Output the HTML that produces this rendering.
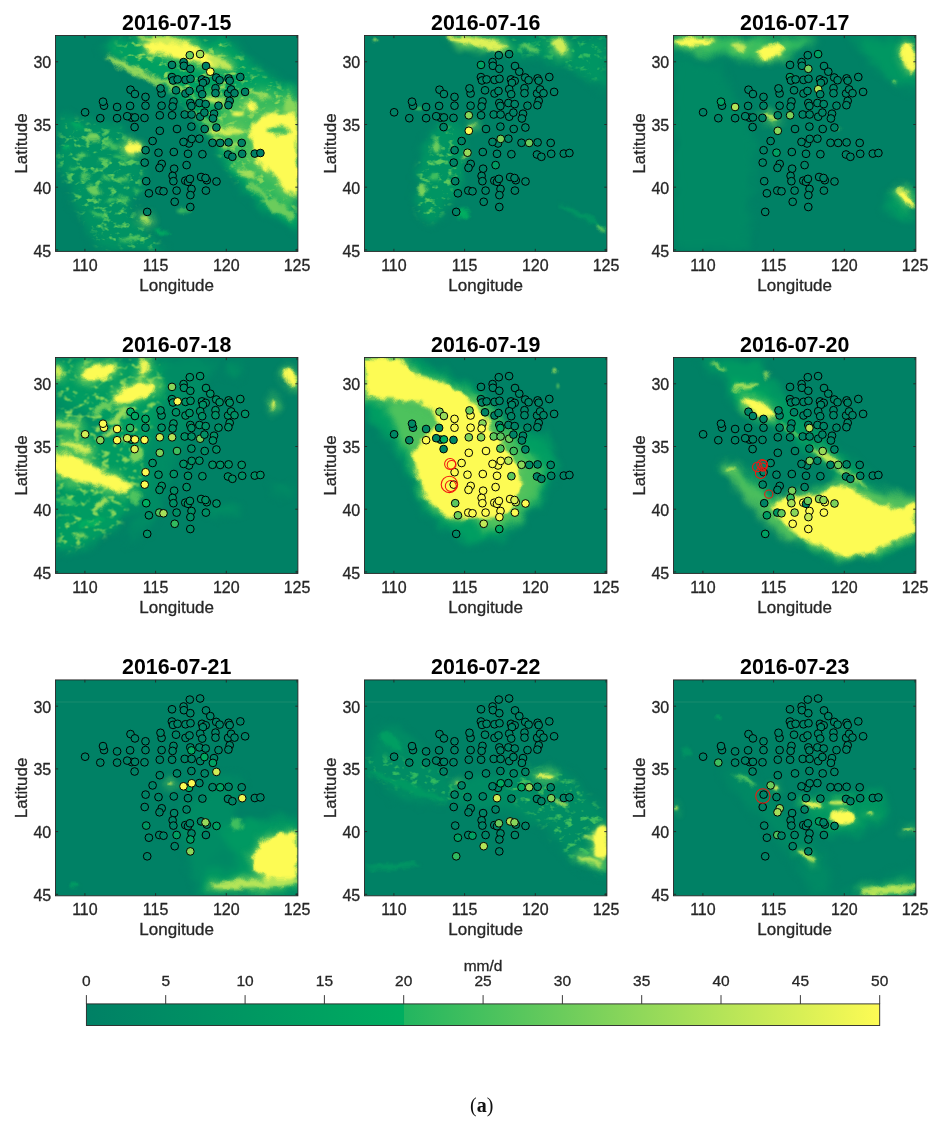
<!DOCTYPE html>
<html lang="en"><head><meta charset="utf-8"><title>Daily precipitation 2016-07-15 to 2016-07-23</title>
<style>html,body{margin:0;padding:0;background:#fff}body{width:940px;height:1125px;overflow:hidden}svg{display:block}text{font-family:"Liberation Sans",Arial,sans-serif;fill:#262626;stroke:#262626;stroke-width:.3px;paint-order:stroke}.tt{font-weight:bold;font-size:21.4px;fill:#000;stroke:none;text-anchor:middle}.tk{font-size:16px}.xl{text-anchor:middle}.yl{text-anchor:end}.lb{font-size:17px;text-anchor:middle}.cb{font-size:15.5px;text-anchor:middle}.cap{font-family:"Liberation Serif","DejaVu Serif",serif;font-size:20px;fill:#111;stroke:none;text-anchor:middle}.s{stroke:#000;stroke-width:1}.r{fill:none;stroke:#f2160f;stroke-width:1.05}</style></head><body>
<svg width="940" height="1125" viewBox="0 0 940 1125">
<defs>
<filter id="b1" x="-20%" y="-20%" width="140%" height="140%" color-interpolation-filters="sRGB"><feGaussianBlur stdDeviation="0.9" result="g"/><feTurbulence type="fractalNoise" baseFrequency="0.12" numOctaves="2" seed="2" result="n"/><feDisplacementMap in="g" in2="n" scale="4" xChannelSelector="R" yChannelSelector="G"/></filter>
<filter id="b2" x="-20%" y="-20%" width="140%" height="140%" color-interpolation-filters="sRGB"><feGaussianBlur stdDeviation="1.8" result="g"/><feTurbulence type="fractalNoise" baseFrequency="0.09" numOctaves="2" seed="5" result="n"/><feDisplacementMap in="g" in2="n" scale="9" xChannelSelector="R" yChannelSelector="G"/></filter>
<filter id="b3" x="-20%" y="-20%" width="140%" height="140%" color-interpolation-filters="sRGB"><feGaussianBlur stdDeviation="4.0" result="g"/><feTurbulence type="fractalNoise" baseFrequency="0.05" numOctaves="2" seed="8" result="n"/><feDisplacementMap in="g" in2="n" scale="14" xChannelSelector="R" yChannelSelector="G"/></filter>
<filter id="b4" x="-20%" y="-20%" width="140%" height="140%" color-interpolation-filters="sRGB"><feGaussianBlur stdDeviation="3.5" result="g"/><feTurbulence type="fractalNoise" baseFrequency="0.11 0.16" numOctaves="3" seed="14" result="n"/><feColorMatrix in="n" type="matrix" values="0 0 0 0 0 0 0 0 0 0 0 0 0 0 0 5 0 0 0 -2.75" result="m"/><feGaussianBlur in="m" stdDeviation="0.7" result="m2"/><feComposite in="g" in2="m2" operator="in"/></filter>
<clipPath id="cp"><rect x="0" y="0" width="242.4" height="215.9"/></clipPath>
<linearGradient id="cg" x1="0" x2="1" y1="0" y2="0"><stop offset="0.0000" stop-color="#008065"/><stop offset="0.1000" stop-color="#008c64"/><stop offset="0.2000" stop-color="#009762"/><stop offset="0.3000" stop-color="#00a261"/><stop offset="0.4000" stop-color="#00ae60"/><stop offset="0.4002" stop-color="#22b560"/><stop offset="0.5000" stop-color="#46c15e"/><stop offset="0.6000" stop-color="#6bcc5c"/><stop offset="0.7000" stop-color="#90d85a"/><stop offset="0.8000" stop-color="#b4e458"/><stop offset="0.9000" stop-color="#d8ef56"/><stop offset="1.0000" stop-color="#fdfb54"/></linearGradient>
</defs>
<rect width="940" height="1125" fill="#fff"/>
<g transform="translate(55.5,35.5)">
<g clip-path="url(#cp)">
<rect x="-1" y="-1" width="244.4" height="217.9" fill="#008165"/>
<g filter="url(#b3)"><polygon points="55.7,1.1 170,1.1 204.6,34.4 241.8,55.7 241.8,196.6 207.3,172.7 180.7,148.8 159.4,111.5 138.1,74.3 106.2,47.7 74.3,31.7 47.7,18.4" fill="#00a062"/><polygon points="164.7,61 196.6,53 241.8,58.3 241.8,180.7 207.3,159.4 180.7,132.8 159.4,100.9" fill="#3fbe5e" opacity="0.85"/><polygon points="7.8,79.6 66.3,92.9 87.6,132.8 76.9,180.7 108.9,215.2 42.4,215.2 15.8,159.4 1.1,122.2" fill="#009563" opacity="0.9"/></g>
<g filter="url(#b3)" fill="#6bcc5c" stroke="#6bcc5c" stroke-width="5" stroke-linejoin="round" opacity="0.85"><polygon points="86.3,9.1 106.2,4.6 132.8,7.3 154.1,17.9 168.7,29.1 154.1,30.9 132.8,25.6 108.9,20.3 92.9,16.3"/><polygon points="82.3,1.1 115.5,1.1 132.8,9.1 100.9,8.3"/><ellipse cx="164.7" cy="27.7" rx="13.3" ry="3.7" transform="rotate(25 164.7 27.7)"/><ellipse cx="158.1" cy="64.2" rx="10.1" ry="2.4" transform="rotate(12 158.1 64.2)"/><polygon points="199.3,86.3 211.3,77.5 225.9,79.1 241.8,74.3 241.8,160.7 229.9,155.4 220.6,139.4 207.3,134.1 199.3,120.8 194.5,100.9"/><ellipse cx="195.6" cy="71.1" rx="6.4" ry="4.8"/><ellipse cx="182.8" cy="78.5" rx="6.9" ry="2.1"/><ellipse cx="170" cy="95.6" rx="18.6" ry="3.5"/><ellipse cx="76.9" cy="112.9" rx="8.5" ry="5.3"/><ellipse cx="90.2" cy="184.7" rx="6.6" ry="2.4"/></g>
<g filter="url(#b4)"><polygon points="7.8,82.3 66.3,95.6 87.6,132.8 76.9,180.7 106.2,212.6 45,212.6 15.8,159.4 2.5,122.2" fill="#5cc85d"/><polygon points="61,5.1 167.4,5.1 201.9,37.1 239.2,61 239.2,180.7 207.3,164.7 180.7,143.4 159.4,108.9 138.1,74.3 106.2,47.7 74.3,31.7" fill="#88d65a"/></g>
<g filter="url(#b2)"><polygon points="86.3,9.1 106.2,4.6 132.8,7.3 154.1,17.9 168.7,29.1 154.1,30.9 132.8,25.6 108.9,20.3 92.9,16.3" fill="#fdfb54"/><polygon points="82.3,1.1 115.5,1.1 132.8,9.1 100.9,8.3" fill="#d1ed56"/><ellipse cx="164.7" cy="27.7" rx="13.3" ry="3.7" fill="#c3e857" transform="rotate(25 164.7 27.7)"/><ellipse cx="76.9" cy="34.4" rx="31.9" ry="3.2" fill="#97da5a" transform="rotate(27 76.9 34.4)"/><ellipse cx="119.5" cy="51.7" rx="23.9" ry="2.9" fill="#88d65a" transform="rotate(27 119.5 51.7)"/><ellipse cx="158.1" cy="64.2" rx="10.1" ry="2.4" fill="#d1ed56" transform="rotate(12 158.1 64.2)"/><ellipse cx="143.4" cy="82.3" rx="16" ry="2.7" fill="#6bcc5c" transform="rotate(25 143.4 82.3)"/><polygon points="199.3,86.3 211.3,77.5 225.9,79.1 241.8,74.3 241.8,160.7 229.9,155.4 220.6,139.4 207.3,134.1 199.3,120.8 194.5,100.9" fill="#fdfb54"/><ellipse cx="223.8" cy="95" rx="10.6" ry="4.3" fill="#3fbe5e"/><ellipse cx="195.6" cy="71.1" rx="6.4" ry="4.8" fill="#fdfb54"/></g>
<g filter="url(#b1)"><ellipse cx="182.8" cy="78.5" rx="6.9" ry="2.1" fill="#fdfb54"/></g>
<g filter="url(#b2)"><ellipse cx="204.6" cy="59.9" rx="12" ry="2.1" fill="#a5df59" transform="rotate(15 204.6 59.9)"/><ellipse cx="235.2" cy="70.3" rx="8" ry="8" fill="#88d65a"/><ellipse cx="170" cy="95.6" rx="18.6" ry="3.5" fill="#d1ed56"/><ellipse cx="175.4" cy="108.9" rx="13.3" ry="2.4" fill="#97da5a"/><ellipse cx="191.3" cy="138.1" rx="10.6" ry="3.2" fill="#a5df59" transform="rotate(25 191.3 138.1)"/><ellipse cx="223.2" cy="172.7" rx="18.6" ry="5.9" fill="#6bcc5c" transform="rotate(35 223.2 172.7)"/><ellipse cx="201.9" cy="154.1" rx="13.3" ry="3.2" fill="#6bcc5c" transform="rotate(35 201.9 154.1)"/><ellipse cx="76.9" cy="112.9" rx="8.5" ry="5.3" fill="#fdfb54"/><ellipse cx="37.1" cy="102.2" rx="6.6" ry="4.3" fill="#7ad15b"/><ellipse cx="26.4" cy="119.5" rx="5.3" ry="3.2" fill="#5cc85d"/><ellipse cx="47.7" cy="124.8" rx="5.9" ry="2.4" fill="#5cc85d"/><ellipse cx="37.1" cy="154.1" rx="7.4" ry="4.3" fill="#6bcc5c" transform="rotate(30 37.1 154.1)"/><ellipse cx="66.3" cy="143.4" rx="5.3" ry="2.4" fill="#5cc85d"/><ellipse cx="30.4" cy="140.8" rx="4.3" ry="2.4" fill="#5cc85d"/><ellipse cx="90.2" cy="184.7" rx="6.6" ry="2.4" fill="#b4e458"/><ellipse cx="74.3" cy="204.6" rx="10.6" ry="2.4" fill="#4ec35e" transform="rotate(-10 74.3 204.6)"/><ellipse cx="127.5" cy="175.4" rx="6.6" ry="2.1" fill="#3fbe5e"/><ellipse cx="55.7" cy="164.7" rx="6.6" ry="2.4" fill="#3fbe5e"/><ellipse cx="21.1" cy="90.2" rx="8" ry="2.7" fill="#00a960" transform="rotate(20 21.1 90.2)"/><ellipse cx="55.7" cy="108.9" rx="8" ry="2.4" fill="#4ec35e" transform="rotate(20 55.7 108.9)"/><ellipse cx="18.4" cy="132.8" rx="5.3" ry="2.1" fill="#3fbe5e"/><ellipse cx="50.4" cy="143.4" rx="4.8" ry="2.1" fill="#4ec35e"/><ellipse cx="69" cy="164.7" rx="5.3" ry="2.1" fill="#4ec35e" transform="rotate(20 69 164.7)"/><ellipse cx="42.4" cy="180.7" rx="8" ry="2.4" fill="#3fbe5e" transform="rotate(30 42.4 180.7)"/><ellipse cx="82.3" cy="154.1" rx="4.3" ry="2.1" fill="#3fbe5e"/><ellipse cx="106.2" cy="196.6" rx="8" ry="2.1" fill="#00ae60" transform="rotate(10 106.2 196.6)"/><ellipse cx="63.6" cy="122.2" rx="6.6" ry="2.1" fill="#3fbe5e" transform="rotate(10 63.6 122.2)"/><ellipse cx="10.5" cy="111.5" rx="4.8" ry="2.1" fill="#00ae60"/></g>
<g class="s" fill="#008065"><circle cx="29.6" cy="76.8" r="3.85"/><circle cx="48.5" cy="70.2" r="3.85"/><circle cx="47.5" cy="66.2" r="3.85"/><circle cx="44.8" cy="82.7" r="3.85"/><circle cx="61.6" cy="71.5" r="3.85"/><circle cx="61.6" cy="82.7" r="3.85"/><circle cx="75" cy="54.2" r="3.85"/><circle cx="79.4" cy="58.5" r="3.85"/><circle cx="74.6" cy="70.4" r="3.85"/><circle cx="76.1" cy="82.2" r="3.85"/><circle cx="71.7" cy="80.7" r="3.85"/><circle cx="79.4" cy="81.9" r="3.85"/><circle cx="79.1" cy="91.6" r="3.85"/><circle cx="90" cy="61.4" r="3.85"/><circle cx="90" cy="70.2" r="3.85"/><circle cx="89" cy="82.4" r="3.85"/><circle cx="106.1" cy="58" r="3.85"/><circle cx="105" cy="52.9" r="3.85"/><circle cx="106.1" cy="70.2" r="3.85"/><circle cx="104.3" cy="79.8" r="3.85"/><circle cx="104.3" cy="95.3" r="3.85"/><circle cx="116.5" cy="29.4" r="3.85"/><circle cx="116.4" cy="41.6" r="3.85"/><circle cx="117.5" cy="45" r="3.85"/><circle cx="122.1" cy="43.9" r="3.85"/><circle cx="120.5" cy="54.8" r="3.85"/><circle cx="118" cy="66" r="3.85"/><circle cx="117.1" cy="71" r="3.85"/><circle cx="116.6" cy="79.8" r="3.85"/><circle cx="121.5" cy="93.5" r="3.85"/><circle cx="134.3" cy="19.7" r="3.85" fill="#6bcc5c"/><circle cx="144.6" cy="18.6" r="3.85" fill="#a5df59"/><circle cx="128.1" cy="26.6" r="3.85"/><circle cx="128.4" cy="30.3" r="3.85"/><circle cx="134.8" cy="33.3" r="3.85"/><circle cx="150.5" cy="30.5" r="3.85"/><circle cx="154.8" cy="36.2" r="3.85" fill="#fdfb54"/><circle cx="130" cy="44.4" r="3.85"/><circle cx="135" cy="43.3" r="3.85"/><circle cx="146.5" cy="43.9" r="3.85"/><circle cx="150.2" cy="45.4" r="3.85"/><circle cx="147.4" cy="47.3" r="3.85"/><circle cx="160.7" cy="42" r="3.85"/><circle cx="164.1" cy="44.7" r="3.85"/><circle cx="173.1" cy="42.9" r="3.85"/><circle cx="174.2" cy="45.2" r="3.85"/><circle cx="184.8" cy="41.5" r="3.85"/><circle cx="130" cy="58" r="3.85"/><circle cx="134" cy="55.5" r="3.85"/><circle cx="144.7" cy="53.7" r="3.85"/><circle cx="146.7" cy="58.7" r="3.85"/><circle cx="160" cy="52.7" r="3.85"/><circle cx="160" cy="57.7" r="3.85"/><circle cx="172.6" cy="58" r="3.85"/><circle cx="175.6" cy="53.9" r="3.85"/><circle cx="179" cy="57.7" r="3.85"/><circle cx="189.6" cy="56.4" r="3.85"/><circle cx="134.8" cy="67.5" r="3.85"/><circle cx="135.9" cy="70.5" r="3.85"/><circle cx="143.9" cy="67.5" r="3.85"/><circle cx="150.2" cy="68.6" r="3.85"/><circle cx="163" cy="70.2" r="3.85"/><circle cx="174.2" cy="65.4" r="3.85"/><circle cx="172.9" cy="69.7" r="3.85"/><circle cx="129.2" cy="79" r="3.85"/><circle cx="136.1" cy="79" r="3.85"/><circle cx="144.7" cy="81.2" r="3.85"/><circle cx="148.9" cy="77.1" r="3.85"/><circle cx="158.5" cy="78.2" r="3.85"/><circle cx="157.4" cy="83" r="3.85"/><circle cx="135.9" cy="91.1" r="3.85"/><circle cx="149.2" cy="93.5" r="3.85"/><circle cx="160.9" cy="92" r="3.85"/><circle cx="97.1" cy="105.5" r="3.85"/><circle cx="133.5" cy="108" r="3.85"/><circle cx="128" cy="106.4" r="3.85"/><circle cx="136.2" cy="103.4" r="3.85"/><circle cx="143.9" cy="103.2" r="3.85"/><circle cx="157" cy="107.3" r="3.85"/><circle cx="164.7" cy="107.4" r="3.85"/><circle cx="173.1" cy="106.9" r="3.85"/><circle cx="90.1" cy="114.7" r="3.85"/><circle cx="103" cy="117.2" r="3.85"/><circle cx="118.3" cy="116.5" r="3.85"/><circle cx="132.5" cy="118.3" r="3.85"/><circle cx="146.9" cy="118.7" r="3.85"/><circle cx="172.5" cy="119" r="3.85"/><circle cx="176.9" cy="121.3" r="3.85"/><circle cx="89.2" cy="127.1" r="3.85"/><circle cx="106.2" cy="128.4" r="3.85"/><circle cx="104" cy="132.4" r="3.85"/><circle cx="118.6" cy="133.2" r="3.85"/><circle cx="131.1" cy="129.6" r="3.85"/><circle cx="117.1" cy="140.4" r="3.85"/><circle cx="117.9" cy="145.7" r="3.85"/><circle cx="90.7" cy="145.7" r="3.85"/><circle cx="129.8" cy="145.2" r="3.85"/><circle cx="132.5" cy="146.3" r="3.85"/><circle cx="134.4" cy="143.4" r="3.85"/><circle cx="145.6" cy="141.5" r="3.85"/><circle cx="151.3" cy="144.7" r="3.85"/><circle cx="150" cy="142.5" r="3.85"/><circle cx="161" cy="146" r="3.85"/><circle cx="93.4" cy="157.8" r="3.85"/><circle cx="103.8" cy="155.1" r="3.85"/><circle cx="108" cy="155.8" r="3.85"/><circle cx="121.1" cy="155.1" r="3.85"/><circle cx="136" cy="153.5" r="3.85"/><circle cx="134.9" cy="159.6" r="3.85"/><circle cx="150.4" cy="155.1" r="3.85"/><circle cx="119.2" cy="166.3" r="3.85"/><circle cx="134.8" cy="171.5" r="3.85"/><circle cx="91.7" cy="176.4" r="3.85"/><circle cx="186.2" cy="107.4" r="3.85"/><circle cx="186.7" cy="118.3" r="3.85"/><circle cx="199.3" cy="118.1" r="3.85"/><circle cx="204.9" cy="117.5" r="3.85"/></g>
</g>
<rect x="0" y="0" width="242.4" height="215.9" fill="none" stroke="#262626" stroke-width="0.9"/>
<path d="M29.4 215.9v-2.6M29.4 0v2.6M0 26.3h2.6M242.4 26.3h-2.6M100.1 215.9v-2.6M100.1 0v2.6M0 89h2.6M242.4 89h-2.6M170.8 215.9v-2.6M170.8 0v2.6M0 151.7h2.6M242.4 151.7h-2.6M241.5 215.9v-2.6M241.5 0v2.6M0 214.4h2.6M242.4 214.4h-2.6" stroke="#262626" stroke-width="0.9" fill="none"/>
<text class="tk xl" x="29.4" y="235.2">110</text>
<text class="tk xl" x="100.1" y="235.2">115</text>
<text class="tk xl" x="170.8" y="235.2">120</text>
<text class="tk xl" x="241.5" y="235.2">125</text>
<text class="tk yl" x="-4.3" y="32.9">30</text>
<text class="tk yl" x="-4.3" y="95.6">35</text>
<text class="tk yl" x="-4.3" y="158.3">40</text>
<text class="tk yl" x="-4.3" y="221">45</text>
<text class="tt" x="121.2" y="-6">2016-07-15</text>
<text class="lb" x="121.2" y="255.1">Longitude</text>
<text class="lb" transform="translate(-28.2,108) rotate(-90)">Latitude</text>
</g>
<g transform="translate(364.5,35.5)">
<g clip-path="url(#cp)">
<rect x="-1" y="-1" width="244.4" height="217.9" fill="#008165"/>
<g filter="url(#b3)"><polygon points="82.3,1.1 241.8,1.1 241.8,55.7 196.6,29.1 154.1,18.4 106.2,13.1" fill="#009563"/><ellipse cx="75.6" cy="135.5" rx="22.6" ry="51.9" fill="#009563" transform="rotate(15 75.6 135.5)"/></g>
<g filter="url(#b3)" fill="#6bcc5c" stroke="#6bcc5c" stroke-width="5" stroke-linejoin="round" opacity="0.85"><ellipse cx="114.2" cy="7.3" rx="30.6" ry="4.3" transform="rotate(10 114.2 7.3)"/><ellipse cx="195.3" cy="10.5" rx="6.6" ry="9.3" transform="rotate(-20 195.3 10.5)"/><ellipse cx="108.3" cy="90.2" rx="2.4" ry="2.7"/></g>
<g filter="url(#b4)"><ellipse cx="74.3" cy="138.1" rx="19.9" ry="47.9" fill="#5cc85d" transform="rotate(15 74.3 138.1)"/><polygon points="84.9,2.5 239.2,2.5 239.2,47.7 196.6,26.4 154.1,17.1 106.2,13.1" fill="#31ba5f"/></g>
<g filter="url(#b2)"><ellipse cx="114.2" cy="7.3" rx="30.6" ry="4.3" fill="#e0f256" transform="rotate(10 114.2 7.3)"/><ellipse cx="195.3" cy="10.5" rx="6.6" ry="9.3" fill="#d1ed56" transform="rotate(-20 195.3 10.5)"/><ellipse cx="164.7" cy="13.1" rx="10.6" ry="2.7" fill="#5cc85d" transform="rotate(20 164.7 13.1)"/><ellipse cx="71.6" cy="111.5" rx="4.3" ry="5.9" fill="#6bcc5c"/><ellipse cx="58.3" cy="154.1" rx="4.8" ry="5.9" fill="#7ad15b" transform="rotate(10 58.3 154.1)"/><ellipse cx="100.9" cy="120.8" rx="2.7" ry="3.7" fill="#97da5a"/><ellipse cx="108.3" cy="90.2" rx="2.4" ry="2.7" fill="#b4e458"/><ellipse cx="69" cy="140.8" rx="5.3" ry="3.7" fill="#3fbe5e"/><ellipse cx="98.2" cy="178" rx="6.6" ry="4.8" fill="#00ae60"/><ellipse cx="217.9" cy="180.7" rx="26.6" ry="2.7" fill="#009563" transform="rotate(28 217.9 180.7)"/><ellipse cx="237.1" cy="193.4" rx="5.3" ry="2.1" fill="#5cc85d" transform="rotate(30 237.1 193.4)"/></g>
<g filter="url(#b1)"><ellipse cx="10.5" cy="5.1" rx="2.1" ry="1.6" fill="#97da5a"/><ellipse cx="54.3" cy="73" rx="3.7" ry="1.6" fill="#4ec35e"/></g>
<g class="s" fill="#008265"><circle cx="29.6" cy="76.8" r="3.85"/><circle cx="48.5" cy="70.2" r="3.85"/><circle cx="47.5" cy="66.2" r="3.85"/><circle cx="44.8" cy="82.7" r="3.85"/><circle cx="61.6" cy="71.5" r="3.85"/><circle cx="61.6" cy="82.7" r="3.85"/><circle cx="75" cy="54.2" r="3.85"/><circle cx="79.4" cy="58.5" r="3.85"/><circle cx="74.6" cy="70.4" r="3.85"/><circle cx="76.1" cy="82.2" r="3.85"/><circle cx="71.7" cy="80.7" r="3.85"/><circle cx="79.4" cy="81.9" r="3.85"/><circle cx="79.1" cy="91.6" r="3.85"/><circle cx="90" cy="61.4" r="3.85"/><circle cx="90" cy="70.2" r="3.85"/><circle cx="89" cy="82.4" r="3.85"/><circle cx="106.1" cy="58" r="3.85"/><circle cx="105" cy="52.9" r="3.85"/><circle cx="106.1" cy="70.2" r="3.85"/><circle cx="104.3" cy="79.8" r="3.85" fill="#88d65a"/><circle cx="104.3" cy="95.3" r="3.85" fill="#fdfb54"/><circle cx="116.5" cy="29.4" r="3.85" fill="#00a062"/><circle cx="116.4" cy="41.6" r="3.85"/><circle cx="117.5" cy="45" r="3.85"/><circle cx="122.1" cy="43.9" r="3.85"/><circle cx="120.5" cy="54.8" r="3.85"/><circle cx="118" cy="66" r="3.85"/><circle cx="117.1" cy="71" r="3.85"/><circle cx="116.6" cy="79.8" r="3.85"/><circle cx="121.5" cy="93.5" r="3.85"/><circle cx="134.3" cy="19.7" r="3.85"/><circle cx="144.6" cy="18.6" r="3.85"/><circle cx="128.1" cy="26.6" r="3.85"/><circle cx="128.4" cy="30.3" r="3.85"/><circle cx="134.8" cy="33.3" r="3.85"/><circle cx="150.5" cy="30.5" r="3.85"/><circle cx="154.8" cy="36.2" r="3.85"/><circle cx="130" cy="44.4" r="3.85"/><circle cx="135" cy="43.3" r="3.85"/><circle cx="146.5" cy="43.9" r="3.85"/><circle cx="150.2" cy="45.4" r="3.85"/><circle cx="147.4" cy="47.3" r="3.85"/><circle cx="160.7" cy="42" r="3.85"/><circle cx="164.1" cy="44.7" r="3.85"/><circle cx="173.1" cy="42.9" r="3.85"/><circle cx="174.2" cy="45.2" r="3.85"/><circle cx="184.8" cy="41.5" r="3.85"/><circle cx="130" cy="58" r="3.85"/><circle cx="134" cy="55.5" r="3.85"/><circle cx="144.7" cy="53.7" r="3.85"/><circle cx="146.7" cy="58.7" r="3.85"/><circle cx="160" cy="52.7" r="3.85"/><circle cx="160" cy="57.7" r="3.85"/><circle cx="172.6" cy="58" r="3.85"/><circle cx="175.6" cy="53.9" r="3.85"/><circle cx="179" cy="57.7" r="3.85"/><circle cx="189.6" cy="56.4" r="3.85"/><circle cx="134.8" cy="67.5" r="3.85"/><circle cx="135.9" cy="70.5" r="3.85"/><circle cx="143.9" cy="67.5" r="3.85"/><circle cx="150.2" cy="68.6" r="3.85"/><circle cx="163" cy="70.2" r="3.85"/><circle cx="174.2" cy="65.4" r="3.85"/><circle cx="172.9" cy="69.7" r="3.85"/><circle cx="129.2" cy="79" r="3.85"/><circle cx="136.1" cy="79" r="3.85"/><circle cx="144.7" cy="81.2" r="3.85"/><circle cx="148.9" cy="77.1" r="3.85"/><circle cx="158.5" cy="78.2" r="3.85"/><circle cx="157.4" cy="83" r="3.85"/><circle cx="135.9" cy="91.1" r="3.85"/><circle cx="149.2" cy="93.5" r="3.85"/><circle cx="160.9" cy="92" r="3.85"/><circle cx="97.1" cy="105.5" r="3.85"/><circle cx="133.5" cy="108" r="3.85"/><circle cx="128" cy="106.4" r="3.85"/><circle cx="136.2" cy="103.4" r="3.85" fill="#7ad15b"/><circle cx="143.9" cy="103.2" r="3.85"/><circle cx="157" cy="107.3" r="3.85"/><circle cx="164.7" cy="107.4" r="3.85" fill="#6bcc5c"/><circle cx="173.1" cy="106.9" r="3.85"/><circle cx="90.1" cy="114.7" r="3.85"/><circle cx="103" cy="117.2" r="3.85" fill="#97da5a"/><circle cx="118.3" cy="116.5" r="3.85"/><circle cx="132.5" cy="118.3" r="3.85"/><circle cx="146.9" cy="118.7" r="3.85"/><circle cx="172.5" cy="119" r="3.85"/><circle cx="176.9" cy="121.3" r="3.85"/><circle cx="89.2" cy="127.1" r="3.85"/><circle cx="106.2" cy="128.4" r="3.85"/><circle cx="104" cy="132.4" r="3.85"/><circle cx="118.6" cy="133.2" r="3.85"/><circle cx="131.1" cy="129.6" r="3.85" fill="#009c62"/><circle cx="117.1" cy="140.4" r="3.85"/><circle cx="117.9" cy="145.7" r="3.85"/><circle cx="90.7" cy="145.7" r="3.85"/><circle cx="129.8" cy="145.2" r="3.85"/><circle cx="132.5" cy="146.3" r="3.85"/><circle cx="134.4" cy="143.4" r="3.85"/><circle cx="145.6" cy="141.5" r="3.85"/><circle cx="151.3" cy="144.7" r="3.85"/><circle cx="150" cy="142.5" r="3.85"/><circle cx="161" cy="146" r="3.85"/><circle cx="93.4" cy="157.8" r="3.85"/><circle cx="103.8" cy="155.1" r="3.85"/><circle cx="108" cy="155.8" r="3.85"/><circle cx="121.1" cy="155.1" r="3.85"/><circle cx="136" cy="153.5" r="3.85"/><circle cx="134.9" cy="159.6" r="3.85"/><circle cx="150.4" cy="155.1" r="3.85"/><circle cx="119.2" cy="166.3" r="3.85"/><circle cx="134.8" cy="171.5" r="3.85"/><circle cx="91.7" cy="176.4" r="3.85"/><circle cx="186.2" cy="107.4" r="3.85"/><circle cx="186.7" cy="118.3" r="3.85"/><circle cx="199.3" cy="118.1" r="3.85"/><circle cx="204.9" cy="117.5" r="3.85"/></g>
</g>
<rect x="0" y="0" width="242.4" height="215.9" fill="none" stroke="#262626" stroke-width="0.9"/>
<path d="M29.4 215.9v-2.6M29.4 0v2.6M0 26.3h2.6M242.4 26.3h-2.6M100.1 215.9v-2.6M100.1 0v2.6M0 89h2.6M242.4 89h-2.6M170.8 215.9v-2.6M170.8 0v2.6M0 151.7h2.6M242.4 151.7h-2.6M241.5 215.9v-2.6M241.5 0v2.6M0 214.4h2.6M242.4 214.4h-2.6" stroke="#262626" stroke-width="0.9" fill="none"/>
<text class="tk xl" x="29.4" y="235.2">110</text>
<text class="tk xl" x="100.1" y="235.2">115</text>
<text class="tk xl" x="170.8" y="235.2">120</text>
<text class="tk xl" x="241.5" y="235.2">125</text>
<text class="tk yl" x="-4.3" y="32.9">30</text>
<text class="tk yl" x="-4.3" y="95.6">35</text>
<text class="tk yl" x="-4.3" y="158.3">40</text>
<text class="tk yl" x="-4.3" y="221">45</text>
<text class="tt" x="121.2" y="-6">2016-07-16</text>
<text class="lb" x="121.2" y="255.1">Longitude</text>
<text class="lb" transform="translate(-28.2,108) rotate(-90)">Latitude</text>
</g>
<g transform="translate(673.5,35.5)">
<g clip-path="url(#cp)">
<rect x="-1" y="-1" width="244.4" height="217.9" fill="#008165"/>
<g filter="url(#b3)"><polygon points="1.1,1.1 143.4,1.1 114.2,21.1 82.3,25.1 37.1,19.8 1.1,14.4" fill="#31ba5f"/><polygon points="178,1.1 241.8,1.1 241.8,55.7 212.6,45" fill="#009762"/><polygon points="1.1,21.1 47.7,31.7 82.3,106.2 74.3,215.2 1.1,215.2" fill="#008964"/><ellipse cx="228.5" cy="167.4" rx="16" ry="16" fill="#009962"/></g>
<g filter="url(#b3)" fill="#6bcc5c" stroke="#6bcc5c" stroke-width="5" stroke-linejoin="round" opacity="0.85"><ellipse cx="21.1" cy="6.5" rx="19.9" ry="4"/><ellipse cx="66.3" cy="11" rx="6.6" ry="3.7"/><ellipse cx="96.9" cy="15.8" rx="13.3" ry="6.4" transform="rotate(-15 96.9 15.8)"/><ellipse cx="235.2" cy="21.1" rx="6.4" ry="16" transform="rotate(-12 235.2 21.1)"/><ellipse cx="232" cy="161.5" rx="4.3" ry="11.2" transform="rotate(-40 232 161.5)"/><ellipse cx="225.9" cy="154.1" rx="3.7" ry="2.1" transform="rotate(-30 225.9 154.1)"/><ellipse cx="96.9" cy="81.7" rx="8" ry="2.1" transform="rotate(15 96.9 81.7)"/></g>
<g filter="url(#b2)"><ellipse cx="21.1" cy="6.5" rx="19.9" ry="4" fill="#fdfb54"/><ellipse cx="66.3" cy="11" rx="6.6" ry="3.7" fill="#c3e857"/><ellipse cx="96.9" cy="15.8" rx="13.3" ry="6.4" fill="#fdfb54" transform="rotate(-15 96.9 15.8)"/><ellipse cx="235.2" cy="21.1" rx="6.4" ry="16" fill="#fdfb54" transform="rotate(-12 235.2 21.1)"/><ellipse cx="220.6" cy="47.7" rx="3.2" ry="2.1" fill="#6bcc5c"/><ellipse cx="232" cy="161.5" rx="4.3" ry="11.2" fill="#fdfb54" transform="rotate(-40 232 161.5)"/></g>
<g filter="url(#b1)"><ellipse cx="225.9" cy="154.1" rx="3.7" ry="2.1" fill="#b4e458" transform="rotate(-30 225.9 154.1)"/><ellipse cx="96.9" cy="81.7" rx="8" ry="2.1" fill="#b4e458" transform="rotate(15 96.9 81.7)"/><ellipse cx="164.7" cy="93.4" rx="2.7" ry="1.3" fill="#4ec35e"/></g>
<g class="s" fill="#008265"><circle cx="29.6" cy="76.8" r="3.85"/><circle cx="48.5" cy="70.2" r="3.85"/><circle cx="47.5" cy="66.2" r="3.85" fill="#00a062"/><circle cx="44.8" cy="82.7" r="3.85"/><circle cx="61.6" cy="71.5" r="3.85" fill="#b4e458"/><circle cx="61.6" cy="82.7" r="3.85"/><circle cx="75" cy="54.2" r="3.85"/><circle cx="79.4" cy="58.5" r="3.85"/><circle cx="74.6" cy="70.4" r="3.85"/><circle cx="76.1" cy="82.2" r="3.85"/><circle cx="71.7" cy="80.7" r="3.85"/><circle cx="79.4" cy="81.9" r="3.85"/><circle cx="79.1" cy="91.6" r="3.85"/><circle cx="90" cy="61.4" r="3.85"/><circle cx="90" cy="70.2" r="3.85"/><circle cx="89" cy="82.4" r="3.85"/><circle cx="106.1" cy="58" r="3.85"/><circle cx="105" cy="52.9" r="3.85"/><circle cx="106.1" cy="70.2" r="3.85"/><circle cx="104.3" cy="79.8" r="3.85"/><circle cx="104.3" cy="95.3" r="3.85" fill="#88d65a"/><circle cx="116.5" cy="29.4" r="3.85"/><circle cx="116.4" cy="41.6" r="3.85" fill="#00a062"/><circle cx="117.5" cy="45" r="3.85"/><circle cx="122.1" cy="43.9" r="3.85"/><circle cx="120.5" cy="54.8" r="3.85"/><circle cx="118" cy="66" r="3.85"/><circle cx="117.1" cy="71" r="3.85"/><circle cx="116.6" cy="79.8" r="3.85" fill="#7ad15b"/><circle cx="121.5" cy="93.5" r="3.85"/><circle cx="134.3" cy="19.7" r="3.85"/><circle cx="144.6" cy="18.6" r="3.85" fill="#00a062"/><circle cx="128.1" cy="26.6" r="3.85"/><circle cx="128.4" cy="30.3" r="3.85"/><circle cx="134.8" cy="33.3" r="3.85" fill="#7ad15b"/><circle cx="150.5" cy="30.5" r="3.85"/><circle cx="154.8" cy="36.2" r="3.85"/><circle cx="130" cy="44.4" r="3.85"/><circle cx="135" cy="43.3" r="3.85"/><circle cx="146.5" cy="43.9" r="3.85"/><circle cx="150.2" cy="45.4" r="3.85"/><circle cx="147.4" cy="47.3" r="3.85"/><circle cx="160.7" cy="42" r="3.85"/><circle cx="164.1" cy="44.7" r="3.85"/><circle cx="173.1" cy="42.9" r="3.85"/><circle cx="174.2" cy="45.2" r="3.85"/><circle cx="184.8" cy="41.5" r="3.85"/><circle cx="130" cy="58" r="3.85"/><circle cx="134" cy="55.5" r="3.85"/><circle cx="144.7" cy="53.7" r="3.85" fill="#b4e458"/><circle cx="146.7" cy="58.7" r="3.85"/><circle cx="160" cy="52.7" r="3.85"/><circle cx="160" cy="57.7" r="3.85"/><circle cx="172.6" cy="58" r="3.85"/><circle cx="175.6" cy="53.9" r="3.85"/><circle cx="179" cy="57.7" r="3.85"/><circle cx="189.6" cy="56.4" r="3.85"/><circle cx="134.8" cy="67.5" r="3.85"/><circle cx="135.9" cy="70.5" r="3.85"/><circle cx="143.9" cy="67.5" r="3.85"/><circle cx="150.2" cy="68.6" r="3.85"/><circle cx="163" cy="70.2" r="3.85"/><circle cx="174.2" cy="65.4" r="3.85"/><circle cx="172.9" cy="69.7" r="3.85"/><circle cx="129.2" cy="79" r="3.85"/><circle cx="136.1" cy="79" r="3.85"/><circle cx="144.7" cy="81.2" r="3.85"/><circle cx="148.9" cy="77.1" r="3.85"/><circle cx="158.5" cy="78.2" r="3.85"/><circle cx="157.4" cy="83" r="3.85"/><circle cx="135.9" cy="91.1" r="3.85"/><circle cx="149.2" cy="93.5" r="3.85"/><circle cx="160.9" cy="92" r="3.85"/><circle cx="97.1" cy="105.5" r="3.85"/><circle cx="133.5" cy="108" r="3.85"/><circle cx="128" cy="106.4" r="3.85"/><circle cx="136.2" cy="103.4" r="3.85"/><circle cx="143.9" cy="103.2" r="3.85"/><circle cx="157" cy="107.3" r="3.85"/><circle cx="164.7" cy="107.4" r="3.85"/><circle cx="173.1" cy="106.9" r="3.85"/><circle cx="90.1" cy="114.7" r="3.85"/><circle cx="103" cy="117.2" r="3.85" fill="#00a062"/><circle cx="118.3" cy="116.5" r="3.85"/><circle cx="132.5" cy="118.3" r="3.85"/><circle cx="146.9" cy="118.7" r="3.85"/><circle cx="172.5" cy="119" r="3.85"/><circle cx="176.9" cy="121.3" r="3.85"/><circle cx="89.2" cy="127.1" r="3.85"/><circle cx="106.2" cy="128.4" r="3.85"/><circle cx="104" cy="132.4" r="3.85"/><circle cx="118.6" cy="133.2" r="3.85"/><circle cx="131.1" cy="129.6" r="3.85"/><circle cx="117.1" cy="140.4" r="3.85"/><circle cx="117.9" cy="145.7" r="3.85"/><circle cx="90.7" cy="145.7" r="3.85"/><circle cx="129.8" cy="145.2" r="3.85"/><circle cx="132.5" cy="146.3" r="3.85"/><circle cx="134.4" cy="143.4" r="3.85"/><circle cx="145.6" cy="141.5" r="3.85"/><circle cx="151.3" cy="144.7" r="3.85"/><circle cx="150" cy="142.5" r="3.85"/><circle cx="161" cy="146" r="3.85"/><circle cx="93.4" cy="157.8" r="3.85"/><circle cx="103.8" cy="155.1" r="3.85"/><circle cx="108" cy="155.8" r="3.85"/><circle cx="121.1" cy="155.1" r="3.85"/><circle cx="136" cy="153.5" r="3.85"/><circle cx="134.9" cy="159.6" r="3.85"/><circle cx="150.4" cy="155.1" r="3.85"/><circle cx="119.2" cy="166.3" r="3.85"/><circle cx="134.8" cy="171.5" r="3.85"/><circle cx="91.7" cy="176.4" r="3.85"/><circle cx="186.2" cy="107.4" r="3.85"/><circle cx="186.7" cy="118.3" r="3.85"/><circle cx="199.3" cy="118.1" r="3.85"/><circle cx="204.9" cy="117.5" r="3.85"/></g>
</g>
<rect x="0" y="0" width="242.4" height="215.9" fill="none" stroke="#262626" stroke-width="0.9"/>
<path d="M29.4 215.9v-2.6M29.4 0v2.6M0 26.3h2.6M242.4 26.3h-2.6M100.1 215.9v-2.6M100.1 0v2.6M0 89h2.6M242.4 89h-2.6M170.8 215.9v-2.6M170.8 0v2.6M0 151.7h2.6M242.4 151.7h-2.6M241.5 215.9v-2.6M241.5 0v2.6M0 214.4h2.6M242.4 214.4h-2.6" stroke="#262626" stroke-width="0.9" fill="none"/>
<text class="tk xl" x="29.4" y="235.2">110</text>
<text class="tk xl" x="100.1" y="235.2">115</text>
<text class="tk xl" x="170.8" y="235.2">120</text>
<text class="tk xl" x="241.5" y="235.2">125</text>
<text class="tk yl" x="-4.3" y="32.9">30</text>
<text class="tk yl" x="-4.3" y="95.6">35</text>
<text class="tk yl" x="-4.3" y="158.3">40</text>
<text class="tk yl" x="-4.3" y="221">45</text>
<text class="tt" x="121.2" y="-6">2016-07-17</text>
<text class="lb" x="121.2" y="255.1">Longitude</text>
<text class="lb" transform="translate(-28.2,108) rotate(-90)">Latitude</text>
</g>
<g transform="translate(55.5,357.5)">
<g clip-path="url(#cp)">
<rect x="-1" y="-1" width="244.4" height="217.9" fill="#008165"/>
<g filter="url(#b3)"><polygon points="1.1,1.1 111.5,1.1 106.2,47.7 90.2,87.6 87.6,132.8 66.3,167.4 29.1,191.3 1.1,196.6" fill="#009c62"/><polygon points="108.9,1.1 159.4,1.1 143.4,47.7 119.5,106.2 100.9,164.7 74.3,186 87.6,132.8 90.2,87.6 106.2,47.7" fill="#008c64"/><ellipse cx="29.1" cy="61" rx="39.9" ry="5.9" fill="#008964" transform="rotate(33 29.1 61)" opacity="0.8"/><ellipse cx="178" cy="13.1" rx="6.6" ry="6.6" fill="#009263"/><ellipse cx="167.4" cy="154.1" rx="16" ry="5.3" fill="#009063"/><ellipse cx="228.5" cy="132.8" rx="13.3" ry="3.2" fill="#009063"/></g>
<g filter="url(#b3)" fill="#5cc85d" stroke="#5cc85d" stroke-width="7" stroke-linejoin="round" opacity="0.85"><ellipse cx="43.2" cy="14.7" rx="19.1" ry="7.2" transform="rotate(-15 43.2 14.7)"/><ellipse cx="79.1" cy="35.2" rx="22.3" ry="8" transform="rotate(-20 79.1 35.2)"/><ellipse cx="88.6" cy="9.9" rx="4.3" ry="9.6" transform="rotate(14 88.6 9.9)"/><ellipse cx="3" cy="15.5" rx="3.7" ry="6.6"/><polygon points="-0.4,94.2 15.8,98.8 39.7,109.4 61,118.2 75.6,128.8 70.3,134.9 47.7,130.1 23.8,124 -0.4,116.3"/><ellipse cx="22.4" cy="89.7" rx="16.5" ry="4" transform="rotate(18 22.4 89.7)"/><ellipse cx="9.9" cy="67.9" rx="13.3" ry="2.4"/><ellipse cx="235.2" cy="19.8" rx="4.8" ry="10.6" transform="rotate(-28 235.2 19.8)"/><ellipse cx="216.6" cy="47.2" rx="2.4" ry="4.8" transform="rotate(10 216.6 47.2)"/></g>
<g filter="url(#b4)"><polygon points="2.5,2.5 108.9,2.5 103.5,47.7 87.6,87.6 84.9,132.8 63.6,167.4 29.1,190 2.5,194" fill="#88d65a"/></g>
<g filter="url(#b2)"><ellipse cx="43.2" cy="14.7" rx="19.1" ry="7.2" fill="#fdfb54" transform="rotate(-15 43.2 14.7)"/><ellipse cx="79.1" cy="35.2" rx="22.3" ry="8" fill="#fdfb54" transform="rotate(-20 79.1 35.2)"/><ellipse cx="88.6" cy="9.9" rx="4.3" ry="9.6" fill="#eef655" transform="rotate(14 88.6 9.9)"/><ellipse cx="57" cy="74.3" rx="10.6" ry="3.5" fill="#97da5a" transform="rotate(-30 57 74.3)"/><ellipse cx="3" cy="15.5" rx="3.7" ry="6.6" fill="#d1ed56"/><polygon points="-0.4,94.2 15.8,98.8 39.7,109.4 61,118.2 75.6,128.8 70.3,134.9 47.7,130.1 23.8,124 -0.4,116.3" fill="#fdfb54"/><ellipse cx="22.4" cy="89.7" rx="16.5" ry="4" fill="#d1ed56" transform="rotate(18 22.4 89.7)"/><ellipse cx="47.7" cy="50.4" rx="13.3" ry="3.7" fill="#6bcc5c" transform="rotate(-25 47.7 50.4)"/><ellipse cx="9.9" cy="67.9" rx="13.3" ry="2.4" fill="#c3e857"/><ellipse cx="46.4" cy="146.6" rx="8" ry="3.2" fill="#a5df59" transform="rotate(-35 46.4 146.6)"/><ellipse cx="80.4" cy="97.7" rx="6.9" ry="8.5" fill="#7ad15b"/><ellipse cx="79.6" cy="139.4" rx="5.3" ry="6.6" fill="#4ec35e"/><ellipse cx="63.9" cy="58.3" rx="10.6" ry="4.8" fill="#97da5a" transform="rotate(-35 63.9 58.3)"/><ellipse cx="25.1" cy="177.5" rx="5.3" ry="2.1" fill="#7ad15b"/><ellipse cx="10.5" cy="143.4" rx="10.6" ry="3.7" fill="#31ba5f" transform="rotate(20 10.5 143.4)"/><ellipse cx="34.4" cy="164.7" rx="13.3" ry="3.2" fill="#00ae60" transform="rotate(-20 34.4 164.7)"/><ellipse cx="235.2" cy="19.8" rx="4.8" ry="10.6" fill="#fdfb54" transform="rotate(-28 235.2 19.8)"/><ellipse cx="216.6" cy="47.2" rx="2.4" ry="4.8" fill="#e0f256" transform="rotate(10 216.6 47.2)"/></g>
<g class="s" fill="#008e64"><circle cx="29.6" cy="76.8" r="3.85" fill="#d1ed56"/><circle cx="48.5" cy="70.2" r="3.85" fill="#fdfb54"/><circle cx="47.5" cy="66.2" r="3.85" fill="#fdfb54"/><circle cx="44.8" cy="82.7" r="3.85" fill="#88d65a"/><circle cx="61.6" cy="71.5" r="3.85" fill="#fdfb54"/><circle cx="61.6" cy="82.7" r="3.85" fill="#fdfb54"/><circle cx="75" cy="54.2" r="3.85" fill="#00a960"/><circle cx="79.4" cy="58.5" r="3.85" fill="#00a561"/><circle cx="74.6" cy="70.4" r="3.85" fill="#31ba5f"/><circle cx="76.1" cy="82.2" r="3.85"/><circle cx="71.7" cy="80.7" r="3.85" fill="#d1ed56"/><circle cx="79.4" cy="81.9" r="3.85" fill="#fdfb54"/><circle cx="79.1" cy="91.6" r="3.85" fill="#e0f256"/><circle cx="90" cy="61.4" r="3.85" fill="#00a561"/><circle cx="90" cy="70.2" r="3.85"/><circle cx="89" cy="82.4" r="3.85" fill="#fdfb54"/><circle cx="106.1" cy="58" r="3.85"/><circle cx="105" cy="52.9" r="3.85"/><circle cx="106.1" cy="70.2" r="3.85"/><circle cx="104.3" cy="79.8" r="3.85" fill="#d1ed56"/><circle cx="104.3" cy="95.3" r="3.85" fill="#7ad15b"/><circle cx="116.5" cy="29.4" r="3.85" fill="#88d65a"/><circle cx="116.4" cy="41.6" r="3.85"/><circle cx="117.5" cy="45" r="3.85"/><circle cx="122.1" cy="43.9" r="3.85" fill="#fdfb54"/><circle cx="120.5" cy="54.8" r="3.85"/><circle cx="118" cy="66" r="3.85"/><circle cx="117.1" cy="71" r="3.85"/><circle cx="116.6" cy="79.8" r="3.85" fill="#b4e458"/><circle cx="121.5" cy="93.5" r="3.85" fill="#3fbe5e"/><circle cx="134.3" cy="19.7" r="3.85"/><circle cx="144.6" cy="18.6" r="3.85"/><circle cx="128.1" cy="26.6" r="3.85"/><circle cx="128.4" cy="30.3" r="3.85"/><circle cx="134.8" cy="33.3" r="3.85"/><circle cx="150.5" cy="30.5" r="3.85"/><circle cx="154.8" cy="36.2" r="3.85"/><circle cx="130" cy="44.4" r="3.85"/><circle cx="135" cy="43.3" r="3.85"/><circle cx="146.5" cy="43.9" r="3.85"/><circle cx="150.2" cy="45.4" r="3.85"/><circle cx="147.4" cy="47.3" r="3.85"/><circle cx="160.7" cy="42" r="3.85"/><circle cx="164.1" cy="44.7" r="3.85"/><circle cx="173.1" cy="42.9" r="3.85"/><circle cx="174.2" cy="45.2" r="3.85"/><circle cx="184.8" cy="41.5" r="3.85"/><circle cx="130" cy="58" r="3.85"/><circle cx="134" cy="55.5" r="3.85"/><circle cx="144.7" cy="53.7" r="3.85"/><circle cx="146.7" cy="58.7" r="3.85"/><circle cx="160" cy="52.7" r="3.85"/><circle cx="160" cy="57.7" r="3.85"/><circle cx="172.6" cy="58" r="3.85"/><circle cx="175.6" cy="53.9" r="3.85"/><circle cx="179" cy="57.7" r="3.85"/><circle cx="189.6" cy="56.4" r="3.85"/><circle cx="134.8" cy="67.5" r="3.85"/><circle cx="135.9" cy="70.5" r="3.85"/><circle cx="143.9" cy="67.5" r="3.85"/><circle cx="150.2" cy="68.6" r="3.85"/><circle cx="163" cy="70.2" r="3.85"/><circle cx="174.2" cy="65.4" r="3.85"/><circle cx="172.9" cy="69.7" r="3.85"/><circle cx="129.2" cy="79" r="3.85"/><circle cx="136.1" cy="79" r="3.85"/><circle cx="144.7" cy="81.2" r="3.85" fill="#7ad15b"/><circle cx="148.9" cy="77.1" r="3.85"/><circle cx="158.5" cy="78.2" r="3.85"/><circle cx="157.4" cy="83" r="3.85"/><circle cx="135.9" cy="91.1" r="3.85"/><circle cx="149.2" cy="93.5" r="3.85"/><circle cx="160.9" cy="92" r="3.85"/><circle cx="97.1" cy="105.5" r="3.85"/><circle cx="133.5" cy="108" r="3.85"/><circle cx="128" cy="106.4" r="3.85"/><circle cx="136.2" cy="103.4" r="3.85"/><circle cx="143.9" cy="103.2" r="3.85"/><circle cx="157" cy="107.3" r="3.85"/><circle cx="164.7" cy="107.4" r="3.85"/><circle cx="173.1" cy="106.9" r="3.85"/><circle cx="90.1" cy="114.7" r="3.85" fill="#fdfb54"/><circle cx="103" cy="117.2" r="3.85"/><circle cx="118.3" cy="116.5" r="3.85"/><circle cx="132.5" cy="118.3" r="3.85"/><circle cx="146.9" cy="118.7" r="3.85"/><circle cx="172.5" cy="119" r="3.85"/><circle cx="176.9" cy="121.3" r="3.85"/><circle cx="89.2" cy="127.1" r="3.85" fill="#fdfb54"/><circle cx="106.2" cy="128.4" r="3.85"/><circle cx="104" cy="132.4" r="3.85"/><circle cx="118.6" cy="133.2" r="3.85"/><circle cx="131.1" cy="129.6" r="3.85"/><circle cx="117.1" cy="140.4" r="3.85"/><circle cx="117.9" cy="145.7" r="3.85"/><circle cx="90.7" cy="145.7" r="3.85" fill="#00ae60"/><circle cx="129.8" cy="145.2" r="3.85"/><circle cx="132.5" cy="146.3" r="3.85"/><circle cx="134.4" cy="143.4" r="3.85"/><circle cx="145.6" cy="141.5" r="3.85"/><circle cx="151.3" cy="144.7" r="3.85"/><circle cx="150" cy="142.5" r="3.85"/><circle cx="161" cy="146" r="3.85"/><circle cx="93.4" cy="157.8" r="3.85"/><circle cx="103.8" cy="155.1" r="3.85" fill="#4ec35e"/><circle cx="108" cy="155.8" r="3.85" fill="#a5df59"/><circle cx="121.1" cy="155.1" r="3.85"/><circle cx="136" cy="153.5" r="3.85"/><circle cx="134.9" cy="159.6" r="3.85"/><circle cx="150.4" cy="155.1" r="3.85"/><circle cx="119.2" cy="166.3" r="3.85" fill="#31ba5f"/><circle cx="134.8" cy="171.5" r="3.85"/><circle cx="91.7" cy="176.4" r="3.85"/><circle cx="186.2" cy="107.4" r="3.85"/><circle cx="186.7" cy="118.3" r="3.85"/><circle cx="199.3" cy="118.1" r="3.85"/><circle cx="204.9" cy="117.5" r="3.85"/></g>
</g>
<rect x="0" y="0" width="242.4" height="215.9" fill="none" stroke="#262626" stroke-width="0.9"/>
<path d="M29.4 215.9v-2.6M29.4 0v2.6M0 26.3h2.6M242.4 26.3h-2.6M100.1 215.9v-2.6M100.1 0v2.6M0 89h2.6M242.4 89h-2.6M170.8 215.9v-2.6M170.8 0v2.6M0 151.7h2.6M242.4 151.7h-2.6M241.5 215.9v-2.6M241.5 0v2.6M0 214.4h2.6M242.4 214.4h-2.6" stroke="#262626" stroke-width="0.9" fill="none"/>
<text class="tk xl" x="29.4" y="235.2">110</text>
<text class="tk xl" x="100.1" y="235.2">115</text>
<text class="tk xl" x="170.8" y="235.2">120</text>
<text class="tk xl" x="241.5" y="235.2">125</text>
<text class="tk yl" x="-4.3" y="32.9">30</text>
<text class="tk yl" x="-4.3" y="95.6">35</text>
<text class="tk yl" x="-4.3" y="158.3">40</text>
<text class="tk yl" x="-4.3" y="221">45</text>
<text class="tt" x="121.2" y="-6">2016-07-18</text>
<text class="lb" x="121.2" y="255.1">Longitude</text>
<text class="lb" transform="translate(-28.2,108) rotate(-90)">Latitude</text>
</g>
<g transform="translate(364.5,357.5)">
<g clip-path="url(#cp)">
<rect x="-1" y="-1" width="244.4" height="217.9" fill="#008165"/>
<g filter="url(#b3)"><polygon points="1.1,1.1 51.7,1.1 111.5,31.7 148.8,71.6 180.7,76.9 192.6,114.2 172.7,148.8 138.1,180.7 106.2,187.3 82.3,171.4 57,150.1 45,119.5 38.4,100.9 15.8,74.3 1.1,55.7" fill="#009e62"/><polygon points="111.5,37.1 132.8,58.3 154.1,82.3 175.4,106.2 178,127.5 164.7,151.4 148.8,167.4 122.2,175.4 114.2,159.4 142.4,157 157.3,127.5 144.8,95.6 119.5,58.3 100.9,39.7" fill="#5cc85d" opacity="0.8"/><polygon points="21.1,43.7 57,45 71.6,58.3 74.3,67.6 57,83.6 47.7,96.9 31.7,82.3" fill="#55c55d" opacity="0.9"/></g>
<g filter="url(#b3)" fill="#7ad15b" stroke="#7ad15b" stroke-width="4" stroke-linejoin="round" opacity="0.85"><polygon points="1.1,1.1 35.7,1.1 49,17.1 75.6,23.8 98.2,37.1 106.2,42.4 119.5,58.3 132.8,78.8 144.8,95.6 151.9,109.4 157.3,127.5 151.4,143.4 142.4,157 128.5,158.9 111.8,160.2 91,161.5 73.2,153.3 60.7,138.9 53.8,118.2 48.5,96.9 57,83.6 74.3,66.8 71.1,56.2 57,44.2 21.1,41.8 1.1,40.2"/></g>
<g filter="url(#b2)"><polygon points="1.1,1.1 35.7,1.1 49,17.1 75.6,23.8 98.2,37.1 106.2,42.4 119.5,58.3 132.8,78.8 144.8,95.6 151.9,109.4 157.3,127.5 151.4,143.4 142.4,157 128.5,158.9 111.8,160.2 91,161.5 73.2,153.3 60.7,138.9 53.8,118.2 48.5,96.9 57,83.6 74.3,66.8 71.1,56.2 57,44.2 21.1,41.8 1.1,40.2" fill="#fdfb54"/></g>
<g filter="url(#b1)"><ellipse cx="190" cy="13.6" rx="2.1" ry="2.1" fill="#97da5a"/><ellipse cx="193.4" cy="28.5" rx="1.1" ry="2.7" fill="#6bcc5c"/></g>
<g filter="url(#b2)"><ellipse cx="164.7" cy="100.9" rx="13.3" ry="2.7" fill="#31ba5f" transform="rotate(50 164.7 100.9)"/></g>
<g class="s" fill="#008365"><circle cx="29.6" cy="76.8" r="3.85" fill="#008764"/><circle cx="48.5" cy="70.2" r="3.85" fill="#008764"/><circle cx="47.5" cy="66.2" r="3.85" fill="#008764"/><circle cx="44.8" cy="82.7" r="3.85" fill="#008764"/><circle cx="61.6" cy="71.5" r="3.85" fill="#008764"/><circle cx="61.6" cy="82.7" r="3.85" fill="#fdfb54"/><circle cx="75" cy="54.2" r="3.85" fill="#7ad15b"/><circle cx="79.4" cy="58.5" r="3.85" fill="#97da5a"/><circle cx="74.6" cy="70.4" r="3.85" fill="#008764"/><circle cx="76.1" cy="82.2" r="3.85" fill="#008764"/><circle cx="71.7" cy="80.7" r="3.85" fill="#008764"/><circle cx="79.4" cy="81.9" r="3.85" fill="#00ae60"/><circle cx="79.1" cy="91.6" r="3.85" fill="#008764"/><circle cx="90" cy="61.4" r="3.85" fill="#fdfb54"/><circle cx="90" cy="70.2" r="3.85" fill="#fdfb54"/><circle cx="89" cy="82.4" r="3.85" fill="#008764"/><circle cx="106.1" cy="58" r="3.85" fill="#fdfb54"/><circle cx="105" cy="52.9" r="3.85" fill="#6bcc5c"/><circle cx="106.1" cy="70.2" r="3.85" fill="#fdfb54"/><circle cx="104.3" cy="79.8" r="3.85" fill="#7ad15b"/><circle cx="104.3" cy="95.3" r="3.85" fill="#fdfb54"/><circle cx="116.5" cy="29.4" r="3.85"/><circle cx="116.4" cy="41.6" r="3.85"/><circle cx="117.5" cy="45" r="3.85"/><circle cx="122.1" cy="43.9" r="3.85"/><circle cx="120.5" cy="54.8" r="3.85"/><circle cx="118" cy="66" r="3.85" fill="#88d65a"/><circle cx="117.1" cy="71" r="3.85" fill="#fdfb54"/><circle cx="116.6" cy="79.8" r="3.85" fill="#88d65a"/><circle cx="121.5" cy="93.5" r="3.85" fill="#fdfb54"/><circle cx="134.3" cy="19.7" r="3.85"/><circle cx="144.6" cy="18.6" r="3.85"/><circle cx="128.1" cy="26.6" r="3.85"/><circle cx="128.4" cy="30.3" r="3.85"/><circle cx="134.8" cy="33.3" r="3.85"/><circle cx="150.5" cy="30.5" r="3.85"/><circle cx="154.8" cy="36.2" r="3.85"/><circle cx="130" cy="44.4" r="3.85"/><circle cx="135" cy="43.3" r="3.85"/><circle cx="146.5" cy="43.9" r="3.85"/><circle cx="150.2" cy="45.4" r="3.85"/><circle cx="147.4" cy="47.3" r="3.85"/><circle cx="160.7" cy="42" r="3.85"/><circle cx="164.1" cy="44.7" r="3.85"/><circle cx="173.1" cy="42.9" r="3.85"/><circle cx="174.2" cy="45.2" r="3.85"/><circle cx="184.8" cy="41.5" r="3.85"/><circle cx="130" cy="58" r="3.85"/><circle cx="134" cy="55.5" r="3.85"/><circle cx="144.7" cy="53.7" r="3.85"/><circle cx="146.7" cy="58.7" r="3.85"/><circle cx="160" cy="52.7" r="3.85"/><circle cx="160" cy="57.7" r="3.85"/><circle cx="172.6" cy="58" r="3.85"/><circle cx="175.6" cy="53.9" r="3.85"/><circle cx="179" cy="57.7" r="3.85"/><circle cx="189.6" cy="56.4" r="3.85"/><circle cx="134.8" cy="67.5" r="3.85"/><circle cx="135.9" cy="70.5" r="3.85" fill="#00a960"/><circle cx="143.9" cy="67.5" r="3.85"/><circle cx="150.2" cy="68.6" r="3.85"/><circle cx="163" cy="70.2" r="3.85"/><circle cx="174.2" cy="65.4" r="3.85"/><circle cx="172.9" cy="69.7" r="3.85"/><circle cx="129.2" cy="79" r="3.85" fill="#5cc85d"/><circle cx="136.1" cy="79" r="3.85" fill="#5cc85d"/><circle cx="144.7" cy="81.2" r="3.85" fill="#6bcc5c"/><circle cx="148.9" cy="77.1" r="3.85"/><circle cx="158.5" cy="78.2" r="3.85"/><circle cx="157.4" cy="83" r="3.85"/><circle cx="135.9" cy="91.1" r="3.85" fill="#4ec35e"/><circle cx="149.2" cy="93.5" r="3.85" fill="#3fbe5e"/><circle cx="160.9" cy="92" r="3.85"/><circle cx="97.1" cy="105.5" r="3.85" fill="#fdfb54"/><circle cx="133.5" cy="108" r="3.85" fill="#fdfb54"/><circle cx="128" cy="106.4" r="3.85" fill="#fdfb54"/><circle cx="136.2" cy="103.4" r="3.85" fill="#fdfb54"/><circle cx="143.9" cy="103.2" r="3.85" fill="#b4e458"/><circle cx="157" cy="107.3" r="3.85" fill="#88d65a"/><circle cx="164.7" cy="107.4" r="3.85" fill="#008e64"/><circle cx="173.1" cy="106.9" r="3.85"/><circle cx="90.1" cy="114.7" r="3.85" fill="#fdfb54"/><circle cx="103" cy="117.2" r="3.85" fill="#fdfb54"/><circle cx="118.3" cy="116.5" r="3.85" fill="#fdfb54"/><circle cx="132.5" cy="118.3" r="3.85" fill="#fdfb54"/><circle cx="146.9" cy="118.7" r="3.85" fill="#5cc85d"/><circle cx="172.5" cy="119" r="3.85"/><circle cx="176.9" cy="121.3" r="3.85"/><circle cx="89.2" cy="127.1" r="3.85" fill="#fdfb54"/><circle cx="106.2" cy="128.4" r="3.85" fill="#fdfb54"/><circle cx="104" cy="132.4" r="3.85" fill="#fdfb54"/><circle cx="118.6" cy="133.2" r="3.85" fill="#fdfb54"/><circle cx="131.1" cy="129.6" r="3.85" fill="#fdfb54"/><circle cx="117.1" cy="140.4" r="3.85" fill="#fdfb54"/><circle cx="117.9" cy="145.7" r="3.85" fill="#fdfb54"/><circle cx="90.7" cy="145.7" r="3.85" fill="#5cc85d"/><circle cx="129.8" cy="145.2" r="3.85" fill="#fdfb54"/><circle cx="132.5" cy="146.3" r="3.85" fill="#fdfb54"/><circle cx="134.4" cy="143.4" r="3.85" fill="#fdfb54"/><circle cx="145.6" cy="141.5" r="3.85" fill="#fdfb54"/><circle cx="151.3" cy="144.7" r="3.85" fill="#d1ed56"/><circle cx="150" cy="142.5" r="3.85" fill="#e0f256"/><circle cx="161" cy="146" r="3.85" fill="#fdfb54"/><circle cx="93.4" cy="157.8" r="3.85" fill="#6bcc5c"/><circle cx="103.8" cy="155.1" r="3.85" fill="#fdfb54"/><circle cx="108" cy="155.8" r="3.85" fill="#fdfb54"/><circle cx="121.1" cy="155.1" r="3.85" fill="#fdfb54"/><circle cx="136" cy="153.5" r="3.85" fill="#fdfb54"/><circle cx="134.9" cy="159.6" r="3.85" fill="#fdfb54"/><circle cx="150.4" cy="155.1" r="3.85" fill="#fdfb54"/><circle cx="119.2" cy="166.3" r="3.85" fill="#c3e857"/><circle cx="134.8" cy="171.5" r="3.85" fill="#00a960"/><circle cx="91.7" cy="176.4" r="3.85" fill="#008964"/><circle cx="186.2" cy="107.4" r="3.85"/><circle cx="186.7" cy="118.3" r="3.85"/><circle cx="199.3" cy="118.1" r="3.85"/><circle cx="204.9" cy="117.5" r="3.85"/></g>
<circle class="r" cx="85.6" cy="106.5" r="5.5"/>
<circle class="r" cx="87.1" cy="107.3" r="4.4"/>
<circle class="r" cx="84.9" cy="126.9" r="8.2"/>
<circle class="r" cx="86.3" cy="128.5" r="5.5"/>
</g>
<rect x="0" y="0" width="242.4" height="215.9" fill="none" stroke="#262626" stroke-width="0.9"/>
<path d="M29.4 215.9v-2.6M29.4 0v2.6M0 26.3h2.6M242.4 26.3h-2.6M100.1 215.9v-2.6M100.1 0v2.6M0 89h2.6M242.4 89h-2.6M170.8 215.9v-2.6M170.8 0v2.6M0 151.7h2.6M242.4 151.7h-2.6M241.5 215.9v-2.6M241.5 0v2.6M0 214.4h2.6M242.4 214.4h-2.6" stroke="#262626" stroke-width="0.9" fill="none"/>
<text class="tk xl" x="29.4" y="235.2">110</text>
<text class="tk xl" x="100.1" y="235.2">115</text>
<text class="tk xl" x="170.8" y="235.2">120</text>
<text class="tk xl" x="241.5" y="235.2">125</text>
<text class="tk yl" x="-4.3" y="32.9">30</text>
<text class="tk yl" x="-4.3" y="95.6">35</text>
<text class="tk yl" x="-4.3" y="158.3">40</text>
<text class="tk yl" x="-4.3" y="221">45</text>
<text class="tt" x="121.2" y="-6">2016-07-19</text>
<text class="lb" x="121.2" y="255.1">Longitude</text>
<text class="lb" transform="translate(-28.2,108) rotate(-90)">Latitude</text>
</g>
<g transform="translate(673.5,357.5)">
<g clip-path="url(#cp)">
<rect x="-1" y="-1" width="244.4" height="217.9" fill="#008165"/>
<g filter="url(#b3)"><polygon points="29.1,1.1 82.3,1.1 106.2,34.4 143.4,71.6 180.7,106.2 207.3,132.8 241.8,138.1 241.8,180.7 207.3,199.8 162.1,203.8 116.8,181.2 87.6,154.6 66.3,127.5 45,108.9 61,104.9 82.3,122.2 106.2,143.4 143.4,132.8 164.7,122.2 143.4,100.9 111.5,74.3 82.3,63.6 61,45 53,26.4" fill="#009962"/><polygon points="47.7,107.5 63.6,108.9 82.3,127.5 98.2,148.8 111.5,168.7 130.1,182.3 119.5,186 95.6,167.4 74.3,143.4" fill="#5cc85d" opacity="0.85"/><ellipse cx="76.9" cy="38.4" rx="25.3" ry="10.6" fill="#00ae60" transform="rotate(32 76.9 38.4)" opacity="0.7"/><polygon points="154.1,127.5 180.7,119.5 207.3,135.5 241.8,139.4 241.8,148.8 223.2,152.7 199.3,146.1 178,130.7 156.7,132.8" fill="#6bcc5c" opacity="0.8"/></g>
<g filter="url(#b3)" fill="#7ad15b" stroke="#7ad15b" stroke-width="4" stroke-linejoin="round" opacity="0.85"><polygon points="97.7,148.8 108.1,141 128.8,138.4 144,138.1 154.9,131.2 166,128.3 178,129.6 188.6,138.1 199.3,144.8 223.2,151.4 241.8,146.1 241.8,173.2 220.6,184.7 194,196.6 171.6,199.8 154.9,192.4 130.1,182.3 112.1,168.4"/><ellipse cx="84.9" cy="50.4" rx="19.1" ry="6.1" transform="rotate(28 84.9 50.4)"/><ellipse cx="154.1" cy="99.6" rx="13.3" ry="2.4" transform="rotate(35 154.1 99.6)"/><ellipse cx="58.3" cy="111.5" rx="5.3" ry="1.6"/></g>
<g filter="url(#b2)"><polygon points="97.7,148.8 108.1,141 128.8,138.4 144,138.1 154.9,131.2 166,128.3 178,129.6 188.6,138.1 199.3,144.8 223.2,151.4 241.8,146.1 241.8,173.2 220.6,184.7 194,196.6 171.6,199.8 154.9,192.4 130.1,182.3 112.1,168.4" fill="#fdfb54"/><ellipse cx="84.9" cy="50.4" rx="19.1" ry="6.1" fill="#fdfb54" transform="rotate(28 84.9 50.4)"/><ellipse cx="71.6" cy="29.1" rx="13.3" ry="2.9" fill="#a5df59" transform="rotate(-5 71.6 29.1)"/><ellipse cx="45" cy="9.1" rx="8" ry="1.9" fill="#88d65a" transform="rotate(30 45 9.1)"/><ellipse cx="93.4" cy="17.1" rx="3.2" ry="2.1" fill="#97da5a" transform="rotate(30 93.4 17.1)"/><ellipse cx="164.7" cy="109.4" rx="37.2" ry="3.5" fill="#88d65a" transform="rotate(35 164.7 109.4)"/><ellipse cx="154.1" cy="99.6" rx="13.3" ry="2.4" fill="#d1ed56" transform="rotate(35 154.1 99.6)"/><ellipse cx="119.5" cy="74.3" rx="16" ry="2.4" fill="#4ec35e" transform="rotate(35 119.5 74.3)"/></g>
<g filter="url(#b1)"><ellipse cx="58.3" cy="111.5" rx="5.3" ry="1.6" fill="#b4e458"/></g>
<g class="s" fill="#008365"><circle cx="29.6" cy="76.8" r="3.85"/><circle cx="48.5" cy="70.2" r="3.85"/><circle cx="47.5" cy="66.2" r="3.85"/><circle cx="44.8" cy="82.7" r="3.85"/><circle cx="61.6" cy="71.5" r="3.85"/><circle cx="61.6" cy="82.7" r="3.85"/><circle cx="75" cy="54.2" r="3.85"/><circle cx="79.4" cy="58.5" r="3.85"/><circle cx="74.6" cy="70.4" r="3.85"/><circle cx="76.1" cy="82.2" r="3.85"/><circle cx="71.7" cy="80.7" r="3.85"/><circle cx="79.4" cy="81.9" r="3.85"/><circle cx="79.1" cy="91.6" r="3.85"/><circle cx="90" cy="61.4" r="3.85"/><circle cx="90" cy="70.2" r="3.85"/><circle cx="89" cy="82.4" r="3.85"/><circle cx="106.1" cy="58" r="3.85"/><circle cx="105" cy="52.9" r="3.85"/><circle cx="106.1" cy="70.2" r="3.85"/><circle cx="104.3" cy="79.8" r="3.85"/><circle cx="104.3" cy="95.3" r="3.85"/><circle cx="116.5" cy="29.4" r="3.85"/><circle cx="116.4" cy="41.6" r="3.85"/><circle cx="117.5" cy="45" r="3.85"/><circle cx="122.1" cy="43.9" r="3.85"/><circle cx="120.5" cy="54.8" r="3.85"/><circle cx="118" cy="66" r="3.85"/><circle cx="117.1" cy="71" r="3.85"/><circle cx="116.6" cy="79.8" r="3.85"/><circle cx="121.5" cy="93.5" r="3.85"/><circle cx="134.3" cy="19.7" r="3.85"/><circle cx="144.6" cy="18.6" r="3.85"/><circle cx="128.1" cy="26.6" r="3.85"/><circle cx="128.4" cy="30.3" r="3.85"/><circle cx="134.8" cy="33.3" r="3.85"/><circle cx="150.5" cy="30.5" r="3.85"/><circle cx="154.8" cy="36.2" r="3.85"/><circle cx="130" cy="44.4" r="3.85"/><circle cx="135" cy="43.3" r="3.85"/><circle cx="146.5" cy="43.9" r="3.85"/><circle cx="150.2" cy="45.4" r="3.85"/><circle cx="147.4" cy="47.3" r="3.85"/><circle cx="160.7" cy="42" r="3.85"/><circle cx="164.1" cy="44.7" r="3.85"/><circle cx="173.1" cy="42.9" r="3.85"/><circle cx="174.2" cy="45.2" r="3.85"/><circle cx="184.8" cy="41.5" r="3.85"/><circle cx="130" cy="58" r="3.85"/><circle cx="134" cy="55.5" r="3.85"/><circle cx="144.7" cy="53.7" r="3.85"/><circle cx="146.7" cy="58.7" r="3.85"/><circle cx="160" cy="52.7" r="3.85"/><circle cx="160" cy="57.7" r="3.85"/><circle cx="172.6" cy="58" r="3.85"/><circle cx="175.6" cy="53.9" r="3.85"/><circle cx="179" cy="57.7" r="3.85"/><circle cx="189.6" cy="56.4" r="3.85"/><circle cx="134.8" cy="67.5" r="3.85"/><circle cx="135.9" cy="70.5" r="3.85" fill="#b4e458"/><circle cx="143.9" cy="67.5" r="3.85"/><circle cx="150.2" cy="68.6" r="3.85"/><circle cx="163" cy="70.2" r="3.85"/><circle cx="174.2" cy="65.4" r="3.85"/><circle cx="172.9" cy="69.7" r="3.85"/><circle cx="129.2" cy="79" r="3.85"/><circle cx="136.1" cy="79" r="3.85"/><circle cx="144.7" cy="81.2" r="3.85"/><circle cx="148.9" cy="77.1" r="3.85"/><circle cx="158.5" cy="78.2" r="3.85"/><circle cx="157.4" cy="83" r="3.85"/><circle cx="135.9" cy="91.1" r="3.85"/><circle cx="149.2" cy="93.5" r="3.85" fill="#97da5a"/><circle cx="160.9" cy="92" r="3.85"/><circle cx="97.1" cy="105.5" r="3.85"/><circle cx="133.5" cy="108" r="3.85"/><circle cx="128" cy="106.4" r="3.85"/><circle cx="136.2" cy="103.4" r="3.85" fill="#7ad15b"/><circle cx="143.9" cy="103.2" r="3.85"/><circle cx="157" cy="107.3" r="3.85"/><circle cx="164.7" cy="107.4" r="3.85" fill="#6bcc5c"/><circle cx="173.1" cy="106.9" r="3.85"/><circle cx="90.1" cy="114.7" r="3.85"/><circle cx="103" cy="117.2" r="3.85"/><circle cx="118.3" cy="116.5" r="3.85"/><circle cx="132.5" cy="118.3" r="3.85"/><circle cx="146.9" cy="118.7" r="3.85"/><circle cx="172.5" cy="119" r="3.85"/><circle cx="176.9" cy="121.3" r="3.85"/><circle cx="89.2" cy="127.1" r="3.85"/><circle cx="106.2" cy="128.4" r="3.85"/><circle cx="104" cy="132.4" r="3.85"/><circle cx="118.6" cy="133.2" r="3.85" fill="#7ad15b"/><circle cx="131.1" cy="129.6" r="3.85"/><circle cx="117.1" cy="140.4" r="3.85" fill="#31ba5f"/><circle cx="117.9" cy="145.7" r="3.85" fill="#a5df59"/><circle cx="90.7" cy="145.7" r="3.85"/><circle cx="129.8" cy="145.2" r="3.85" fill="#fdfb54"/><circle cx="132.5" cy="146.3" r="3.85" fill="#008964"/><circle cx="134.4" cy="143.4" r="3.85" fill="#6bcc5c"/><circle cx="145.6" cy="141.5" r="3.85" fill="#88d65a"/><circle cx="151.3" cy="144.7" r="3.85" fill="#fdfb54"/><circle cx="150" cy="142.5" r="3.85" fill="#88d65a"/><circle cx="161" cy="146" r="3.85" fill="#7ad15b"/><circle cx="93.4" cy="157.8" r="3.85" fill="#009c62"/><circle cx="103.8" cy="155.1" r="3.85" fill="#009762"/><circle cx="108" cy="155.8" r="3.85" fill="#5cc85d"/><circle cx="121.1" cy="155.1" r="3.85" fill="#88d65a"/><circle cx="136" cy="153.5" r="3.85" fill="#fdfb54"/><circle cx="134.9" cy="159.6" r="3.85" fill="#c3e857"/><circle cx="150.4" cy="155.1" r="3.85" fill="#fdfb54"/><circle cx="119.2" cy="166.3" r="3.85" fill="#fdfb54"/><circle cx="134.8" cy="171.5" r="3.85" fill="#fdfb54"/><circle cx="91.7" cy="176.4" r="3.85" fill="#00a062"/><circle cx="186.2" cy="107.4" r="3.85"/><circle cx="186.7" cy="118.3" r="3.85"/><circle cx="199.3" cy="118.1" r="3.85"/><circle cx="204.9" cy="117.5" r="3.85"/></g>
<circle class="r" cx="83.8" cy="109.5" r="4.8"/>
<circle class="r" cx="88.6" cy="107.4" r="5.3"/>
<circle class="r" cx="89.3" cy="109.5" r="4.1"/>
<circle class="r" cx="90" cy="106.7" r="3.9"/>
<circle class="r" cx="87.2" cy="115.7" r="5.3"/>
<circle class="r" cx="95.3" cy="136.7" r="4.1"/>
</g>
<rect x="0" y="0" width="242.4" height="215.9" fill="none" stroke="#262626" stroke-width="0.9"/>
<path d="M29.4 215.9v-2.6M29.4 0v2.6M0 26.3h2.6M242.4 26.3h-2.6M100.1 215.9v-2.6M100.1 0v2.6M0 89h2.6M242.4 89h-2.6M170.8 215.9v-2.6M170.8 0v2.6M0 151.7h2.6M242.4 151.7h-2.6M241.5 215.9v-2.6M241.5 0v2.6M0 214.4h2.6M242.4 214.4h-2.6" stroke="#262626" stroke-width="0.9" fill="none"/>
<text class="tk xl" x="29.4" y="235.2">110</text>
<text class="tk xl" x="100.1" y="235.2">115</text>
<text class="tk xl" x="170.8" y="235.2">120</text>
<text class="tk xl" x="241.5" y="235.2">125</text>
<text class="tk yl" x="-4.3" y="32.9">30</text>
<text class="tk yl" x="-4.3" y="95.6">35</text>
<text class="tk yl" x="-4.3" y="158.3">40</text>
<text class="tk yl" x="-4.3" y="221">45</text>
<text class="tt" x="121.2" y="-6">2016-07-20</text>
<text class="lb" x="121.2" y="255.1">Longitude</text>
<text class="lb" transform="translate(-28.2,108) rotate(-90)">Latitude</text>
</g>
<g transform="translate(55.5,679.9)">
<g clip-path="url(#cp)">
<rect x="-1" y="-1" width="244.4" height="217.9" fill="#008165"/>
<g filter="url(#b3)"><polygon points="119.5,138.7 164.7,93.5 186,101.5 180.7,133.4 196.6,144 241.8,144 241.8,215.8 143.4,215.8 132.8,181.3" fill="#008c64"/><polygon points="164.7,146.7 196.6,138.7 241.8,137.4 241.8,215.8 143.4,215.8 148.8,191.9 178,181.3" fill="#009962"/><ellipse cx="170" cy="178.6" rx="13.3" ry="10.6" fill="#008764" opacity="0.8"/></g>
<g filter="url(#b3)" fill="#6bcc5c" stroke="#6bcc5c" stroke-width="5" stroke-linejoin="round" opacity="0.85"><polygon points="196.6,178.6 207.3,160 225.9,152 241.8,154.7 241.8,197.2 223.2,205.2 207.3,197.2 196.6,189.2"/><ellipse cx="199.3" cy="203.9" rx="45.2" ry="4.3" transform="rotate(-3 199.3 203.9)"/><ellipse cx="115.5" cy="103.6" rx="2.7" ry="1.3"/></g>
<g filter="url(#b2)"><polygon points="196.6,178.6 207.3,160 225.9,152 241.8,154.7 241.8,197.2 223.2,205.2 207.3,197.2 196.6,189.2" fill="#fdfb54"/><ellipse cx="199.3" cy="203.9" rx="45.2" ry="4.3" fill="#b4e458" transform="rotate(-3 199.3 203.9)"/><ellipse cx="180.7" cy="144" rx="6.6" ry="6.6" fill="#3fbe5e"/></g>
<g filter="url(#b1)"><ellipse cx="115.5" cy="103.6" rx="2.7" ry="1.3" fill="#d1ed56"/></g>
<g filter="url(#b2)"><ellipse cx="18.4" cy="205.7" rx="5.9" ry="2.7" fill="#009c62"/></g>
<rect x="0" y="21.8" width="242.4" height="0.6" fill="#3a9c7c" opacity=".7"/>
<g class="s" fill="#008265"><circle cx="29.6" cy="76.8" r="3.85"/><circle cx="48.5" cy="70.2" r="3.85"/><circle cx="47.5" cy="66.2" r="3.85"/><circle cx="44.8" cy="82.7" r="3.85"/><circle cx="61.6" cy="71.5" r="3.85"/><circle cx="61.6" cy="82.7" r="3.85"/><circle cx="75" cy="54.2" r="3.85"/><circle cx="79.4" cy="58.5" r="3.85"/><circle cx="74.6" cy="70.4" r="3.85"/><circle cx="76.1" cy="82.2" r="3.85"/><circle cx="71.7" cy="80.7" r="3.85"/><circle cx="79.4" cy="81.9" r="3.85"/><circle cx="79.1" cy="91.6" r="3.85"/><circle cx="90" cy="61.4" r="3.85"/><circle cx="90" cy="70.2" r="3.85"/><circle cx="89" cy="82.4" r="3.85"/><circle cx="106.1" cy="58" r="3.85"/><circle cx="105" cy="52.9" r="3.85"/><circle cx="106.1" cy="70.2" r="3.85"/><circle cx="104.3" cy="79.8" r="3.85"/><circle cx="104.3" cy="95.3" r="3.85"/><circle cx="116.5" cy="29.4" r="3.85"/><circle cx="116.4" cy="41.6" r="3.85"/><circle cx="117.5" cy="45" r="3.85"/><circle cx="122.1" cy="43.9" r="3.85"/><circle cx="120.5" cy="54.8" r="3.85"/><circle cx="118" cy="66" r="3.85"/><circle cx="117.1" cy="71" r="3.85"/><circle cx="116.6" cy="79.8" r="3.85"/><circle cx="121.5" cy="93.5" r="3.85"/><circle cx="134.3" cy="19.7" r="3.85"/><circle cx="144.6" cy="18.6" r="3.85"/><circle cx="128.1" cy="26.6" r="3.85"/><circle cx="128.4" cy="30.3" r="3.85"/><circle cx="134.8" cy="33.3" r="3.85"/><circle cx="150.5" cy="30.5" r="3.85"/><circle cx="154.8" cy="36.2" r="3.85"/><circle cx="130" cy="44.4" r="3.85"/><circle cx="135" cy="43.3" r="3.85"/><circle cx="146.5" cy="43.9" r="3.85"/><circle cx="150.2" cy="45.4" r="3.85"/><circle cx="147.4" cy="47.3" r="3.85"/><circle cx="160.7" cy="42" r="3.85"/><circle cx="164.1" cy="44.7" r="3.85"/><circle cx="173.1" cy="42.9" r="3.85"/><circle cx="174.2" cy="45.2" r="3.85"/><circle cx="184.8" cy="41.5" r="3.85"/><circle cx="130" cy="58" r="3.85"/><circle cx="134" cy="55.5" r="3.85"/><circle cx="144.7" cy="53.7" r="3.85"/><circle cx="146.7" cy="58.7" r="3.85"/><circle cx="160" cy="52.7" r="3.85"/><circle cx="160" cy="57.7" r="3.85"/><circle cx="172.6" cy="58" r="3.85"/><circle cx="175.6" cy="53.9" r="3.85"/><circle cx="179" cy="57.7" r="3.85"/><circle cx="189.6" cy="56.4" r="3.85"/><circle cx="134.8" cy="67.5" r="3.85"/><circle cx="135.9" cy="70.5" r="3.85" fill="#00a960"/><circle cx="143.9" cy="67.5" r="3.85"/><circle cx="150.2" cy="68.6" r="3.85"/><circle cx="163" cy="70.2" r="3.85"/><circle cx="174.2" cy="65.4" r="3.85"/><circle cx="172.9" cy="69.7" r="3.85"/><circle cx="129.2" cy="79" r="3.85"/><circle cx="136.1" cy="79" r="3.85"/><circle cx="144.7" cy="81.2" r="3.85"/><circle cx="148.9" cy="77.1" r="3.85" fill="#00a960"/><circle cx="158.5" cy="78.2" r="3.85"/><circle cx="157.4" cy="83" r="3.85" fill="#00a062"/><circle cx="135.9" cy="91.1" r="3.85"/><circle cx="149.2" cy="93.5" r="3.85"/><circle cx="160.9" cy="92" r="3.85" fill="#d1ed56"/><circle cx="97.1" cy="105.5" r="3.85"/><circle cx="133.5" cy="108" r="3.85" fill="#00ae60"/><circle cx="128" cy="106.4" r="3.85" fill="#fdfb54"/><circle cx="136.2" cy="103.4" r="3.85" fill="#fdfb54"/><circle cx="143.9" cy="103.2" r="3.85"/><circle cx="157" cy="107.3" r="3.85"/><circle cx="164.7" cy="107.4" r="3.85" fill="#00a062"/><circle cx="173.1" cy="106.9" r="3.85"/><circle cx="90.1" cy="114.7" r="3.85"/><circle cx="103" cy="117.2" r="3.85"/><circle cx="118.3" cy="116.5" r="3.85"/><circle cx="132.5" cy="118.3" r="3.85"/><circle cx="146.9" cy="118.7" r="3.85"/><circle cx="172.5" cy="119" r="3.85"/><circle cx="176.9" cy="121.3" r="3.85"/><circle cx="89.2" cy="127.1" r="3.85"/><circle cx="106.2" cy="128.4" r="3.85"/><circle cx="104" cy="132.4" r="3.85"/><circle cx="118.6" cy="133.2" r="3.85"/><circle cx="131.1" cy="129.6" r="3.85"/><circle cx="117.1" cy="140.4" r="3.85"/><circle cx="117.9" cy="145.7" r="3.85"/><circle cx="90.7" cy="145.7" r="3.85" fill="#009762"/><circle cx="129.8" cy="145.2" r="3.85"/><circle cx="132.5" cy="146.3" r="3.85"/><circle cx="134.4" cy="143.4" r="3.85"/><circle cx="145.6" cy="141.5" r="3.85"/><circle cx="151.3" cy="144.7" r="3.85"/><circle cx="150" cy="142.5" r="3.85" fill="#97da5a"/><circle cx="161" cy="146" r="3.85" fill="#00a062"/><circle cx="93.4" cy="157.8" r="3.85"/><circle cx="103.8" cy="155.1" r="3.85"/><circle cx="108" cy="155.8" r="3.85"/><circle cx="121.1" cy="155.1" r="3.85" fill="#00a062"/><circle cx="136" cy="153.5" r="3.85"/><circle cx="134.9" cy="159.6" r="3.85" fill="#00a062"/><circle cx="150.4" cy="155.1" r="3.85"/><circle cx="119.2" cy="166.3" r="3.85"/><circle cx="134.8" cy="171.5" r="3.85" fill="#88d65a"/><circle cx="91.7" cy="176.4" r="3.85"/><circle cx="186.2" cy="107.4" r="3.85"/><circle cx="186.7" cy="118.3" r="3.85" fill="#eef655"/><circle cx="199.3" cy="118.1" r="3.85"/><circle cx="204.9" cy="117.5" r="3.85"/></g>
</g>
<rect x="0" y="0" width="242.4" height="215.9" fill="none" stroke="#262626" stroke-width="0.9"/>
<path d="M29.4 215.9v-2.6M29.4 0v2.6M0 26.3h2.6M242.4 26.3h-2.6M100.1 215.9v-2.6M100.1 0v2.6M0 89h2.6M242.4 89h-2.6M170.8 215.9v-2.6M170.8 0v2.6M0 151.7h2.6M242.4 151.7h-2.6M241.5 215.9v-2.6M241.5 0v2.6M0 214.4h2.6M242.4 214.4h-2.6" stroke="#262626" stroke-width="0.9" fill="none"/>
<text class="tk xl" x="29.4" y="235.2">110</text>
<text class="tk xl" x="100.1" y="235.2">115</text>
<text class="tk xl" x="170.8" y="235.2">120</text>
<text class="tk xl" x="241.5" y="235.2">125</text>
<text class="tk yl" x="-4.3" y="32.9">30</text>
<text class="tk yl" x="-4.3" y="95.6">35</text>
<text class="tk yl" x="-4.3" y="158.3">40</text>
<text class="tk yl" x="-4.3" y="221">45</text>
<text class="tt" x="121.2" y="-6">2016-07-21</text>
<text class="lb" x="121.2" y="255.1">Longitude</text>
<text class="lb" transform="translate(-28.2,108) rotate(-90)">Latitude</text>
</g>
<g transform="translate(364.5,679.9)">
<g clip-path="url(#cp)">
<rect x="-1" y="-1" width="244.4" height="217.9" fill="#008165"/>
<g filter="url(#b3)"><polygon points="2.5,88.2 15.8,45.6 37.1,48.3 87.6,101.5 154.1,85.5 199.3,90.8 241.8,133.4 241.8,199.9 207.3,181.3 180.7,149.4 143.4,133.4 87.6,122.8 34.4,120.1" fill="#008c64"/></g>
<g filter="url(#b3)" fill="#6bcc5c" stroke="#6bcc5c" stroke-width="5" stroke-linejoin="round" opacity="0.85"><ellipse cx="180.7" cy="96.2" rx="9.3" ry="2.4"/><ellipse cx="236" cy="162.7" rx="8" ry="16"/><ellipse cx="225.9" cy="181.3" rx="13.3" ry="2.7" transform="rotate(20 225.9 181.3)"/><ellipse cx="92.9" cy="102.8" rx="2.1" ry="1.3"/></g>
<g filter="url(#b4)"><ellipse cx="50.4" cy="98.8" rx="53.2" ry="14.6" fill="#31ba5f" transform="rotate(18 50.4 98.8)"/><polygon points="154.1,86.9 199.3,92.2 239.2,133.4 239.2,194.6 207.3,178.6 180.7,148 143.4,113.5" fill="#3fbe5e"/></g>
<g filter="url(#b2)"><ellipse cx="26.4" cy="61.6" rx="13.3" ry="5.9" fill="#009e62" transform="rotate(40 26.4 61.6)"/><ellipse cx="42.4" cy="106.8" rx="42.6" ry="3.7" fill="#009962" transform="rotate(20 42.4 106.8)"/></g>
<g filter="url(#b1)"><ellipse cx="180.7" cy="96.2" rx="9.3" ry="2.4" fill="#e0f256"/><ellipse cx="196.6" cy="122.8" rx="8" ry="1.9" fill="#97da5a" transform="rotate(25 196.6 122.8)"/></g>
<g filter="url(#b2)"><ellipse cx="236" cy="162.7" rx="8" ry="16" fill="#fdfb54"/><ellipse cx="225.9" cy="181.3" rx="13.3" ry="2.7" fill="#b4e458" transform="rotate(20 225.9 181.3)"/></g>
<g filter="url(#b1)"><ellipse cx="223.2" cy="157.3" rx="5.3" ry="2.1" fill="#97da5a"/></g>
<g filter="url(#b2)"><ellipse cx="29.1" cy="186.6" rx="26.6" ry="2.7" fill="#009563" transform="rotate(-3 29.1 186.6)"/></g>
<g filter="url(#b1)"><ellipse cx="92.9" cy="102.8" rx="2.1" ry="1.3" fill="#b4e458"/></g>
<rect x="0" y="21.8" width="242.4" height="0.6" fill="#3a9c7c" opacity=".7"/>
<g class="s" fill="#008265"><circle cx="29.6" cy="76.8" r="3.85"/><circle cx="48.5" cy="70.2" r="3.85"/><circle cx="47.5" cy="66.2" r="3.85"/><circle cx="44.8" cy="82.7" r="3.85"/><circle cx="61.6" cy="71.5" r="3.85"/><circle cx="61.6" cy="82.7" r="3.85"/><circle cx="75" cy="54.2" r="3.85"/><circle cx="79.4" cy="58.5" r="3.85"/><circle cx="74.6" cy="70.4" r="3.85"/><circle cx="76.1" cy="82.2" r="3.85"/><circle cx="71.7" cy="80.7" r="3.85"/><circle cx="79.4" cy="81.9" r="3.85"/><circle cx="79.1" cy="91.6" r="3.85"/><circle cx="90" cy="61.4" r="3.85"/><circle cx="90" cy="70.2" r="3.85"/><circle cx="89" cy="82.4" r="3.85"/><circle cx="106.1" cy="58" r="3.85"/><circle cx="105" cy="52.9" r="3.85"/><circle cx="106.1" cy="70.2" r="3.85"/><circle cx="104.3" cy="79.8" r="3.85"/><circle cx="104.3" cy="95.3" r="3.85"/><circle cx="116.5" cy="29.4" r="3.85"/><circle cx="116.4" cy="41.6" r="3.85"/><circle cx="117.5" cy="45" r="3.85"/><circle cx="122.1" cy="43.9" r="3.85"/><circle cx="120.5" cy="54.8" r="3.85"/><circle cx="118" cy="66" r="3.85"/><circle cx="117.1" cy="71" r="3.85"/><circle cx="116.6" cy="79.8" r="3.85"/><circle cx="121.5" cy="93.5" r="3.85"/><circle cx="134.3" cy="19.7" r="3.85"/><circle cx="144.6" cy="18.6" r="3.85"/><circle cx="128.1" cy="26.6" r="3.85"/><circle cx="128.4" cy="30.3" r="3.85"/><circle cx="134.8" cy="33.3" r="3.85"/><circle cx="150.5" cy="30.5" r="3.85"/><circle cx="154.8" cy="36.2" r="3.85"/><circle cx="130" cy="44.4" r="3.85"/><circle cx="135" cy="43.3" r="3.85"/><circle cx="146.5" cy="43.9" r="3.85"/><circle cx="150.2" cy="45.4" r="3.85"/><circle cx="147.4" cy="47.3" r="3.85"/><circle cx="160.7" cy="42" r="3.85"/><circle cx="164.1" cy="44.7" r="3.85"/><circle cx="173.1" cy="42.9" r="3.85"/><circle cx="174.2" cy="45.2" r="3.85"/><circle cx="184.8" cy="41.5" r="3.85"/><circle cx="130" cy="58" r="3.85"/><circle cx="134" cy="55.5" r="3.85"/><circle cx="144.7" cy="53.7" r="3.85"/><circle cx="146.7" cy="58.7" r="3.85"/><circle cx="160" cy="52.7" r="3.85"/><circle cx="160" cy="57.7" r="3.85"/><circle cx="172.6" cy="58" r="3.85"/><circle cx="175.6" cy="53.9" r="3.85"/><circle cx="179" cy="57.7" r="3.85"/><circle cx="189.6" cy="56.4" r="3.85"/><circle cx="134.8" cy="67.5" r="3.85"/><circle cx="135.9" cy="70.5" r="3.85"/><circle cx="143.9" cy="67.5" r="3.85"/><circle cx="150.2" cy="68.6" r="3.85"/><circle cx="163" cy="70.2" r="3.85"/><circle cx="174.2" cy="65.4" r="3.85"/><circle cx="172.9" cy="69.7" r="3.85"/><circle cx="129.2" cy="79" r="3.85"/><circle cx="136.1" cy="79" r="3.85"/><circle cx="144.7" cy="81.2" r="3.85"/><circle cx="148.9" cy="77.1" r="3.85"/><circle cx="158.5" cy="78.2" r="3.85"/><circle cx="157.4" cy="83" r="3.85"/><circle cx="135.9" cy="91.1" r="3.85"/><circle cx="149.2" cy="93.5" r="3.85"/><circle cx="160.9" cy="92" r="3.85"/><circle cx="97.1" cy="105.5" r="3.85"/><circle cx="133.5" cy="108" r="3.85"/><circle cx="128" cy="106.4" r="3.85"/><circle cx="136.2" cy="103.4" r="3.85" fill="#00a960"/><circle cx="143.9" cy="103.2" r="3.85"/><circle cx="157" cy="107.3" r="3.85" fill="#00a960"/><circle cx="164.7" cy="107.4" r="3.85" fill="#97da5a"/><circle cx="173.1" cy="106.9" r="3.85"/><circle cx="90.1" cy="114.7" r="3.85"/><circle cx="103" cy="117.2" r="3.85"/><circle cx="118.3" cy="116.5" r="3.85"/><circle cx="132.5" cy="118.3" r="3.85" fill="#d1ed56"/><circle cx="146.9" cy="118.7" r="3.85"/><circle cx="172.5" cy="119" r="3.85"/><circle cx="176.9" cy="121.3" r="3.85"/><circle cx="89.2" cy="127.1" r="3.85"/><circle cx="106.2" cy="128.4" r="3.85"/><circle cx="104" cy="132.4" r="3.85"/><circle cx="118.6" cy="133.2" r="3.85"/><circle cx="131.1" cy="129.6" r="3.85"/><circle cx="117.1" cy="140.4" r="3.85"/><circle cx="117.9" cy="145.7" r="3.85"/><circle cx="90.7" cy="145.7" r="3.85"/><circle cx="129.8" cy="145.2" r="3.85"/><circle cx="132.5" cy="146.3" r="3.85"/><circle cx="134.4" cy="143.4" r="3.85" fill="#6bcc5c"/><circle cx="145.6" cy="141.5" r="3.85" fill="#b4e458"/><circle cx="151.3" cy="144.7" r="3.85"/><circle cx="150" cy="142.5" r="3.85" fill="#88d65a"/><circle cx="161" cy="146" r="3.85"/><circle cx="93.4" cy="157.8" r="3.85" fill="#00a062"/><circle cx="103.8" cy="155.1" r="3.85"/><circle cx="108" cy="155.8" r="3.85" fill="#00a062"/><circle cx="121.1" cy="155.1" r="3.85"/><circle cx="136" cy="153.5" r="3.85"/><circle cx="134.9" cy="159.6" r="3.85"/><circle cx="150.4" cy="155.1" r="3.85"/><circle cx="119.2" cy="166.3" r="3.85" fill="#b4e458"/><circle cx="134.8" cy="171.5" r="3.85"/><circle cx="91.7" cy="176.4" r="3.85" fill="#31ba5f"/><circle cx="186.2" cy="107.4" r="3.85"/><circle cx="186.7" cy="118.3" r="3.85" fill="#7ad15b"/><circle cx="199.3" cy="118.1" r="3.85"/><circle cx="204.9" cy="117.5" r="3.85"/></g>
</g>
<rect x="0" y="0" width="242.4" height="215.9" fill="none" stroke="#262626" stroke-width="0.9"/>
<path d="M29.4 215.9v-2.6M29.4 0v2.6M0 26.3h2.6M242.4 26.3h-2.6M100.1 215.9v-2.6M100.1 0v2.6M0 89h2.6M242.4 89h-2.6M170.8 215.9v-2.6M170.8 0v2.6M0 151.7h2.6M242.4 151.7h-2.6M241.5 215.9v-2.6M241.5 0v2.6M0 214.4h2.6M242.4 214.4h-2.6" stroke="#262626" stroke-width="0.9" fill="none"/>
<text class="tk xl" x="29.4" y="235.2">110</text>
<text class="tk xl" x="100.1" y="235.2">115</text>
<text class="tk xl" x="170.8" y="235.2">120</text>
<text class="tk xl" x="241.5" y="235.2">125</text>
<text class="tk yl" x="-4.3" y="32.9">30</text>
<text class="tk yl" x="-4.3" y="95.6">35</text>
<text class="tk yl" x="-4.3" y="158.3">40</text>
<text class="tk yl" x="-4.3" y="221">45</text>
<text class="tt" x="121.2" y="-6">2016-07-22</text>
<text class="lb" x="121.2" y="255.1">Longitude</text>
<text class="lb" transform="translate(-28.2,108) rotate(-90)">Latitude</text>
</g>
<g transform="translate(673.5,679.9)">
<g clip-path="url(#cp)">
<rect x="-1" y="-1" width="244.4" height="217.9" fill="#008165"/>
<g filter="url(#b3)"><polygon points="122.2,120.1 159.4,114.8 207.3,112.1 215.2,133.4 186,154.7 159.4,157.3 138.1,144" fill="#009762"/><polygon points="47.7,90.8 74.3,90.8 154.1,181.3 159.4,215.8 241.8,186.6 241.8,215.8 138.1,215.8 122.2,181.3" fill="#008964"/></g>
<g filter="url(#b3)" fill="#3fbe5e" stroke="#3fbe5e" stroke-width="3" stroke-linejoin="round" opacity="0.85"><ellipse cx="170" cy="137.4" rx="12" ry="7.4"/><ellipse cx="138.1" cy="124.1" rx="10.6" ry="2.9" transform="rotate(15 138.1 124.1)"/><ellipse cx="164.7" cy="122.8" rx="10.6" ry="1.9"/><ellipse cx="196.6" cy="133.4" rx="3.2" ry="1.6"/><ellipse cx="102.2" cy="108.1" rx="3.2" ry="1.9" transform="rotate(30 102.2 108.1)"/><ellipse cx="132.8" cy="176" rx="10.6" ry="2.4" transform="rotate(35 132.8 176)"/><ellipse cx="215.2" cy="210" rx="29.3" ry="4.3" transform="rotate(-5 215.2 210)"/><ellipse cx="235.2" cy="149.4" rx="6.6" ry="1.3"/><ellipse cx="2.5" cy="128.1" rx="2.1" ry="2.1"/></g>
<g filter="url(#b2)"><ellipse cx="170" cy="137.4" rx="12" ry="7.4" fill="#fdfb54"/></g>
<g filter="url(#b1)"><ellipse cx="138.1" cy="124.1" rx="10.6" ry="2.9" fill="#e0f256" transform="rotate(15 138.1 124.1)"/><ellipse cx="164.7" cy="122.8" rx="10.6" ry="1.9" fill="#d1ed56"/><ellipse cx="196.6" cy="133.4" rx="3.2" ry="1.6" fill="#b4e458"/></g>
<g filter="url(#b2)"><ellipse cx="71.6" cy="100.2" rx="13.3" ry="2.4" fill="#4ec35e" transform="rotate(30 71.6 100.2)"/></g>
<g filter="url(#b1)"><ellipse cx="102.2" cy="108.1" rx="3.2" ry="1.9" fill="#d1ed56" transform="rotate(30 102.2 108.1)"/><ellipse cx="132.8" cy="176" rx="10.6" ry="2.4" fill="#b4e458" transform="rotate(35 132.8 176)"/></g>
<g filter="url(#b2)"><ellipse cx="215.2" cy="210" rx="29.3" ry="4.3" fill="#b4e458" transform="rotate(-5 215.2 210)"/></g>
<g filter="url(#b1)"><ellipse cx="235.2" cy="149.4" rx="6.6" ry="1.3" fill="#b4e458"/><ellipse cx="2.5" cy="128.1" rx="2.1" ry="2.1" fill="#b4e458"/></g>
<g filter="url(#b2)"><ellipse cx="13.1" cy="72.2" rx="5.3" ry="5.3" fill="#009263"/></g>
<g filter="url(#b1)"><ellipse cx="45" cy="37.7" rx="3.2" ry="2.1" fill="#009c62"/></g>
<rect x="0" y="21.8" width="242.4" height="0.6" fill="#3a9c7c" opacity=".7"/>
<g class="s" fill="#008265"><circle cx="29.6" cy="76.8" r="3.85"/><circle cx="48.5" cy="70.2" r="3.85"/><circle cx="47.5" cy="66.2" r="3.85"/><circle cx="44.8" cy="82.7" r="3.85" fill="#3fbe5e"/><circle cx="61.6" cy="71.5" r="3.85"/><circle cx="61.6" cy="82.7" r="3.85"/><circle cx="75" cy="54.2" r="3.85"/><circle cx="79.4" cy="58.5" r="3.85"/><circle cx="74.6" cy="70.4" r="3.85"/><circle cx="76.1" cy="82.2" r="3.85"/><circle cx="71.7" cy="80.7" r="3.85"/><circle cx="79.4" cy="81.9" r="3.85"/><circle cx="79.1" cy="91.6" r="3.85"/><circle cx="90" cy="61.4" r="3.85"/><circle cx="90" cy="70.2" r="3.85"/><circle cx="89" cy="82.4" r="3.85"/><circle cx="106.1" cy="58" r="3.85"/><circle cx="105" cy="52.9" r="3.85"/><circle cx="106.1" cy="70.2" r="3.85"/><circle cx="104.3" cy="79.8" r="3.85"/><circle cx="104.3" cy="95.3" r="3.85"/><circle cx="116.5" cy="29.4" r="3.85"/><circle cx="116.4" cy="41.6" r="3.85"/><circle cx="117.5" cy="45" r="3.85"/><circle cx="122.1" cy="43.9" r="3.85"/><circle cx="120.5" cy="54.8" r="3.85"/><circle cx="118" cy="66" r="3.85"/><circle cx="117.1" cy="71" r="3.85"/><circle cx="116.6" cy="79.8" r="3.85"/><circle cx="121.5" cy="93.5" r="3.85"/><circle cx="134.3" cy="19.7" r="3.85"/><circle cx="144.6" cy="18.6" r="3.85"/><circle cx="128.1" cy="26.6" r="3.85"/><circle cx="128.4" cy="30.3" r="3.85"/><circle cx="134.8" cy="33.3" r="3.85"/><circle cx="150.5" cy="30.5" r="3.85"/><circle cx="154.8" cy="36.2" r="3.85"/><circle cx="130" cy="44.4" r="3.85"/><circle cx="135" cy="43.3" r="3.85"/><circle cx="146.5" cy="43.9" r="3.85"/><circle cx="150.2" cy="45.4" r="3.85"/><circle cx="147.4" cy="47.3" r="3.85"/><circle cx="160.7" cy="42" r="3.85"/><circle cx="164.1" cy="44.7" r="3.85"/><circle cx="173.1" cy="42.9" r="3.85"/><circle cx="174.2" cy="45.2" r="3.85"/><circle cx="184.8" cy="41.5" r="3.85"/><circle cx="130" cy="58" r="3.85"/><circle cx="134" cy="55.5" r="3.85"/><circle cx="144.7" cy="53.7" r="3.85"/><circle cx="146.7" cy="58.7" r="3.85"/><circle cx="160" cy="52.7" r="3.85"/><circle cx="160" cy="57.7" r="3.85"/><circle cx="172.6" cy="58" r="3.85"/><circle cx="175.6" cy="53.9" r="3.85"/><circle cx="179" cy="57.7" r="3.85"/><circle cx="189.6" cy="56.4" r="3.85"/><circle cx="134.8" cy="67.5" r="3.85"/><circle cx="135.9" cy="70.5" r="3.85"/><circle cx="143.9" cy="67.5" r="3.85"/><circle cx="150.2" cy="68.6" r="3.85"/><circle cx="163" cy="70.2" r="3.85"/><circle cx="174.2" cy="65.4" r="3.85"/><circle cx="172.9" cy="69.7" r="3.85"/><circle cx="129.2" cy="79" r="3.85"/><circle cx="136.1" cy="79" r="3.85"/><circle cx="144.7" cy="81.2" r="3.85"/><circle cx="148.9" cy="77.1" r="3.85"/><circle cx="158.5" cy="78.2" r="3.85"/><circle cx="157.4" cy="83" r="3.85"/><circle cx="135.9" cy="91.1" r="3.85"/><circle cx="149.2" cy="93.5" r="3.85"/><circle cx="160.9" cy="92" r="3.85"/><circle cx="97.1" cy="105.5" r="3.85" fill="#6bcc5c"/><circle cx="133.5" cy="108" r="3.85"/><circle cx="128" cy="106.4" r="3.85"/><circle cx="136.2" cy="103.4" r="3.85"/><circle cx="143.9" cy="103.2" r="3.85"/><circle cx="157" cy="107.3" r="3.85"/><circle cx="164.7" cy="107.4" r="3.85"/><circle cx="173.1" cy="106.9" r="3.85"/><circle cx="90.1" cy="114.7" r="3.85"/><circle cx="103" cy="117.2" r="3.85"/><circle cx="118.3" cy="116.5" r="3.85"/><circle cx="132.5" cy="118.3" r="3.85"/><circle cx="146.9" cy="118.7" r="3.85"/><circle cx="172.5" cy="119" r="3.85"/><circle cx="176.9" cy="121.3" r="3.85"/><circle cx="89.2" cy="127.1" r="3.85"/><circle cx="106.2" cy="128.4" r="3.85" fill="#97da5a"/><circle cx="104" cy="132.4" r="3.85" fill="#a5df59"/><circle cx="118.6" cy="133.2" r="3.85"/><circle cx="131.1" cy="129.6" r="3.85"/><circle cx="117.1" cy="140.4" r="3.85"/><circle cx="117.9" cy="145.7" r="3.85"/><circle cx="90.7" cy="145.7" r="3.85"/><circle cx="129.8" cy="145.2" r="3.85"/><circle cx="132.5" cy="146.3" r="3.85"/><circle cx="134.4" cy="143.4" r="3.85"/><circle cx="145.6" cy="141.5" r="3.85" fill="#00a062"/><circle cx="151.3" cy="144.7" r="3.85"/><circle cx="150" cy="142.5" r="3.85"/><circle cx="161" cy="146" r="3.85"/><circle cx="93.4" cy="157.8" r="3.85"/><circle cx="103.8" cy="155.1" r="3.85" fill="#4ec35e"/><circle cx="108" cy="155.8" r="3.85"/><circle cx="121.1" cy="155.1" r="3.85"/><circle cx="136" cy="153.5" r="3.85"/><circle cx="134.9" cy="159.6" r="3.85"/><circle cx="150.4" cy="155.1" r="3.85"/><circle cx="119.2" cy="166.3" r="3.85"/><circle cx="134.8" cy="171.5" r="3.85"/><circle cx="91.7" cy="176.4" r="3.85"/><circle cx="186.2" cy="107.4" r="3.85"/><circle cx="186.7" cy="118.3" r="3.85"/><circle cx="199.3" cy="118.1" r="3.85"/><circle cx="204.9" cy="117.5" r="3.85"/></g>
<circle class="r" cx="89.4" cy="116.1" r="7.2" stroke="#c8281e"/>
</g>
<rect x="0" y="0" width="242.4" height="215.9" fill="none" stroke="#262626" stroke-width="0.9"/>
<path d="M29.4 215.9v-2.6M29.4 0v2.6M0 26.3h2.6M242.4 26.3h-2.6M100.1 215.9v-2.6M100.1 0v2.6M0 89h2.6M242.4 89h-2.6M170.8 215.9v-2.6M170.8 0v2.6M0 151.7h2.6M242.4 151.7h-2.6M241.5 215.9v-2.6M241.5 0v2.6M0 214.4h2.6M242.4 214.4h-2.6" stroke="#262626" stroke-width="0.9" fill="none"/>
<text class="tk xl" x="29.4" y="235.2">110</text>
<text class="tk xl" x="100.1" y="235.2">115</text>
<text class="tk xl" x="170.8" y="235.2">120</text>
<text class="tk xl" x="241.5" y="235.2">125</text>
<text class="tk yl" x="-4.3" y="32.9">30</text>
<text class="tk yl" x="-4.3" y="95.6">35</text>
<text class="tk yl" x="-4.3" y="158.3">40</text>
<text class="tk yl" x="-4.3" y="221">45</text>
<text class="tt" x="121.2" y="-6">2016-07-23</text>
<text class="lb" x="121.2" y="255.1">Longitude</text>
<text class="lb" transform="translate(-28.2,108) rotate(-90)">Latitude</text>
</g>
<rect x="86.4" y="1003.9" width="793.3" height="21.6" fill="url(#cg)" stroke="#262626" stroke-width="0.9"/>
<text class="cb" x="86.4" y="985.9">0</text>
<text class="cb" x="165.7" y="985.9">5</text>
<text class="cb" x="245.1" y="985.9">10</text>
<text class="cb" x="324.4" y="985.9">15</text>
<text class="cb" x="403.7" y="985.9">20</text>
<text class="cb" x="483.1" y="985.9">25</text>
<text class="cb" x="562.4" y="985.9">30</text>
<text class="cb" x="641.7" y="985.9">35</text>
<text class="cb" x="721" y="985.9">40</text>
<text class="cb" x="800.4" y="985.9">45</text>
<text class="cb" x="879.7" y="985.9">50</text>
<path d="M86.4 1003.9v-8.8M165.7 1003.9v-8.8M245.1 1003.9v-8.8M324.4 1003.9v-8.8M403.7 1003.9v-8.8M483.1 1003.9v-8.8M562.4 1003.9v-8.8M641.7 1003.9v-8.8M721 1003.9v-8.8M800.4 1003.9v-8.8M879.7 1003.9v-8.8" stroke="#262626" stroke-width="0.9" fill="none"/>
<text class="cb" x="483" y="970.6">mm/d</text>
<text class="cap" x="481.7" y="1111.8">(<tspan font-weight="bold">a</tspan>)</text>
</svg></body></html>
